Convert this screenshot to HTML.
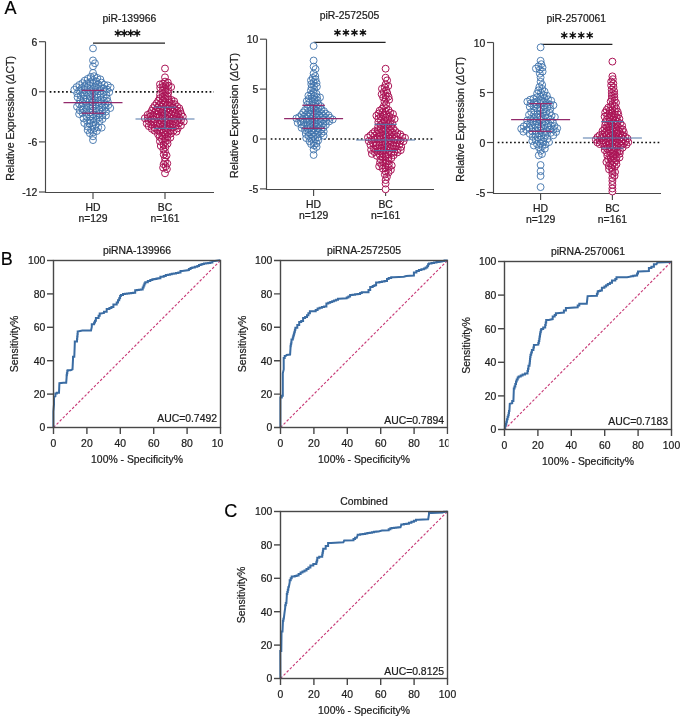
<!DOCTYPE html>
<html><head><meta charset="utf-8"><style>
html,body{margin:0;padding:0;background:#fff;}
svg{display:block;font-family:"Liberation Sans", sans-serif;filter:blur(0.45px);}
text{stroke:#222;stroke-width:0.22px;}
</style></head><body>
<svg width="685" height="722" viewBox="0 0 685 722">
<rect width="685" height="722" fill="#fff"/>
<defs><clipPath id="c1"><rect x="0" y="235" width="223" height="250"/></clipPath><clipPath id="c2"><rect x="225" y="235" width="223.5" height="250"/></clipPath><clipPath id="c3"><rect x="450" y="235" width="235" height="250"/></clipPath><clipPath id="c4"><rect x="225" y="485" width="260" height="237"/></clipPath></defs>
<line x1="45.50" y1="41.70" x2="45.50" y2="193.00" stroke="#484848" stroke-width="1.15" />
<line x1="45.00" y1="192.50" x2="214.00" y2="192.50" stroke="#484848" stroke-width="1.15" />
<line x1="39.00" y1="41.70" x2="45.50" y2="41.70" stroke="#484848" stroke-width="1.15" />
<text x="37.30" y="45.70" font-size="10.4" text-anchor="end" fill="#1a1a1a" >6</text>
<line x1="39.00" y1="91.80" x2="45.50" y2="91.80" stroke="#484848" stroke-width="1.15" />
<text x="37.30" y="95.80" font-size="10.4" text-anchor="end" fill="#1a1a1a" >0</text>
<line x1="39.00" y1="141.90" x2="45.50" y2="141.90" stroke="#484848" stroke-width="1.15" />
<text x="37.30" y="145.90" font-size="10.4" text-anchor="end" fill="#1a1a1a" >-6</text>
<line x1="39.00" y1="192.00" x2="45.50" y2="192.00" stroke="#484848" stroke-width="1.15" />
<text x="37.30" y="196.00" font-size="10.4" text-anchor="end" fill="#1a1a1a" >-12</text>
<line x1="93.00" y1="192.50" x2="93.00" y2="199.00" stroke="#484848" stroke-width="1.15" />
<text x="93.00" y="210.60" font-size="10.4" text-anchor="middle" fill="#1a1a1a" >HD</text>
<text x="93.00" y="221.80" font-size="10.4" text-anchor="middle" fill="#1a1a1a" >n=129</text>
<line x1="165.00" y1="192.50" x2="165.00" y2="199.00" stroke="#484848" stroke-width="1.15" />
<text x="165.00" y="210.60" font-size="10.4" text-anchor="middle" fill="#1a1a1a" >BC</text>
<text x="165.00" y="221.80" font-size="10.4" text-anchor="middle" fill="#1a1a1a" >n=161</text>
<line x1="49.7" y1="91.80" x2="214" y2="91.80" stroke="#111" stroke-width="1.7" stroke-dasharray="1.7 2.4"/>
<text transform="translate(13.8,118.3) rotate(-90)" font-size="10.6" text-anchor="middle" fill="#1a1a1a">Relative Expression (<tspan font-style="italic">&#916;</tspan>CT)</text>
<text x="129.40" y="22.00" font-size="10.4" text-anchor="middle" fill="#1a1a1a" >piR-139966</text>
<line x1="93.00" y1="43.20" x2="165.00" y2="43.20" stroke="#222" stroke-width="1.2" />
<path d="M117.90,29.60L117.90,36.80M114.78,31.40L121.02,35.00M121.02,31.40L114.78,35.00" stroke="#111" stroke-width="1.35" fill="none"/><circle cx="117.90" cy="33.20" r="1.25" fill="#111"/>
<path d="M124.30,29.60L124.30,36.80M121.18,31.40L127.42,35.00M127.42,31.40L121.18,35.00" stroke="#111" stroke-width="1.35" fill="none"/><circle cx="124.30" cy="33.20" r="1.25" fill="#111"/>
<path d="M130.70,29.60L130.70,36.80M127.58,31.40L133.82,35.00M133.82,31.40L127.58,35.00" stroke="#111" stroke-width="1.35" fill="none"/><circle cx="130.70" cy="33.20" r="1.25" fill="#111"/>
<path d="M137.10,29.60L137.10,36.80M133.98,31.40L140.22,35.00M140.22,31.40L133.98,35.00" stroke="#111" stroke-width="1.35" fill="none"/><circle cx="137.10" cy="33.20" r="1.25" fill="#111"/>
<g fill="#fff" stroke="none"><circle cx="93.00" cy="72.86" r="3.45"/><circle cx="94.13" cy="76.17" r="3.45"/><circle cx="90.71" cy="76.92" r="3.45"/><circle cx="97.17" cy="77.90" r="3.45"/><circle cx="87.77" cy="78.82" r="3.45"/><circle cx="100.36" cy="79.35" r="3.45"/><circle cx="93.00" cy="80.09" r="3.45"/><circle cx="84.76" cy="80.61" r="3.45"/><circle cx="96.25" cy="81.39" r="3.45"/><circle cx="90.12" cy="82.07" r="3.45"/><circle cx="101.52" cy="82.65" r="3.45"/><circle cx="82.36" cy="83.16" r="3.45"/><circle cx="86.90" cy="83.46" r="3.45"/><circle cx="93.17" cy="83.78" r="3.45"/><circle cx="98.30" cy="84.23" r="3.45"/><circle cx="104.31" cy="84.77" r="3.45"/><circle cx="79.36" cy="84.95" r="3.45"/><circle cx="107.76" cy="85.38" r="3.45"/><circle cx="90.35" cy="85.85" r="3.45"/><circle cx="84.48" cy="85.98" r="3.45"/><circle cx="95.41" cy="86.47" r="3.45"/><circle cx="100.56" cy="86.90" r="3.45"/><circle cx="76.57" cy="87.07" r="3.45"/><circle cx="110.55" cy="87.48" r="3.45"/><circle cx="87.51" cy="87.90" r="3.45"/><circle cx="81.65" cy="88.05" r="3.45"/><circle cx="103.69" cy="88.48" r="3.45"/><circle cx="92.86" cy="88.87" r="3.45"/><circle cx="97.62" cy="89.19" r="3.45"/><circle cx="107.04" cy="89.48" r="3.45"/><circle cx="74.32" cy="89.76" r="3.45"/><circle cx="84.84" cy="90.17" r="3.45"/><circle cx="79.14" cy="90.48" r="3.45"/><circle cx="89.98" cy="90.86" r="3.45"/><circle cx="100.50" cy="91.18" r="3.45"/><circle cx="94.99" cy="91.64" r="3.45"/><circle cx="103.91" cy="91.98" r="3.45"/><circle cx="109.20" cy="92.23" r="3.45"/><circle cx="82.39" cy="92.66" r="3.45"/><circle cx="87.18" cy="92.96" r="3.45"/><circle cx="77.17" cy="93.38" r="3.45"/><circle cx="92.18" cy="93.74" r="3.45"/><circle cx="97.37" cy="94.21" r="3.45"/><circle cx="106.32" cy="94.52" r="3.45"/><circle cx="100.79" cy="94.95" r="3.45"/><circle cx="84.69" cy="95.42" r="3.45"/><circle cx="80.71" cy="95.73" r="3.45"/><circle cx="89.76" cy="96.27" r="3.45"/><circle cx="94.38" cy="96.46" r="3.45"/><circle cx="103.62" cy="97.00" r="3.45"/><circle cx="77.58" cy="97.31" r="3.45"/><circle cx="97.68" cy="97.69" r="3.45"/><circle cx="106.94" cy="98.13" r="3.45"/><circle cx="87.06" cy="98.49" r="3.45"/><circle cx="83.57" cy="98.84" r="3.45"/><circle cx="92.09" cy="99.11" r="3.45"/><circle cx="100.67" cy="99.51" r="3.45"/><circle cx="80.29" cy="100.05" r="3.45"/><circle cx="95.35" cy="100.38" r="3.45"/><circle cx="103.93" cy="100.80" r="3.45"/><circle cx="89.31" cy="101.24" r="3.45"/><circle cx="107.74" cy="101.54" r="3.45"/><circle cx="85.78" cy="101.75" r="3.45"/><circle cx="98.35" cy="102.18" r="3.45"/><circle cx="92.67" cy="102.63" r="3.45"/><circle cx="82.48" cy="102.90" r="3.45"/><circle cx="101.61" cy="103.46" r="3.45"/><circle cx="79.10" cy="103.82" r="3.45"/><circle cx="105.04" cy="104.16" r="3.45"/><circle cx="95.67" cy="104.43" r="3.45"/><circle cx="90.00" cy="104.89" r="3.45"/><circle cx="108.42" cy="105.08" r="3.45"/><circle cx="86.55" cy="105.49" r="3.45"/><circle cx="98.85" cy="105.89" r="3.45"/><circle cx="81.75" cy="106.33" r="3.45"/><circle cx="77.01" cy="106.63" r="3.45"/><circle cx="93.00" cy="106.90" r="3.45"/><circle cx="102.04" cy="107.32" r="3.45"/><circle cx="105.53" cy="107.68" r="3.45"/><circle cx="110.29" cy="108.04" r="3.45"/><circle cx="96.18" cy="108.37" r="3.45"/><circle cx="90.06" cy="108.79" r="3.45"/><circle cx="86.58" cy="109.17" r="3.45"/><circle cx="83.11" cy="109.63" r="3.45"/><circle cx="99.26" cy="110.02" r="3.45"/><circle cx="79.68" cy="110.33" r="3.45"/><circle cx="93.00" cy="110.70" r="3.45"/><circle cx="102.56" cy="111.19" r="3.45"/><circle cx="106.03" cy="111.63" r="3.45"/><circle cx="96.26" cy="111.98" r="3.45"/><circle cx="89.96" cy="112.44" r="3.45"/><circle cx="86.50" cy="112.92" r="3.45"/><circle cx="82.49" cy="113.08" r="3.45"/><circle cx="99.27" cy="113.77" r="3.45"/><circle cx="79.13" cy="114.03" r="3.45"/><circle cx="93.00" cy="114.55" r="3.45"/><circle cx="102.50" cy="115.11" r="3.45"/><circle cx="105.97" cy="115.56" r="3.45"/><circle cx="96.25" cy="115.84" r="3.45"/><circle cx="90.09" cy="116.50" r="3.45"/><circle cx="86.60" cy="116.79" r="3.45"/><circle cx="99.39" cy="117.39" r="3.45"/><circle cx="93.22" cy="118.06" r="3.45"/><circle cx="83.52" cy="118.44" r="3.45"/><circle cx="102.48" cy="119.04" r="3.45"/><circle cx="96.34" cy="119.65" r="3.45"/><circle cx="90.52" cy="120.28" r="3.45"/><circle cx="87.07" cy="120.89" r="3.45"/><circle cx="99.48" cy="121.21" r="3.45"/><circle cx="93.48" cy="122.14" r="3.45"/><circle cx="84.27" cy="122.99" r="3.45"/><circle cx="89.44" cy="123.61" r="3.45"/><circle cx="95.82" cy="124.74" r="3.45"/><circle cx="92.43" cy="125.59" r="3.45"/><circle cx="87.45" cy="126.49" r="3.45"/><circle cx="98.21" cy="127.30" r="3.45"/><circle cx="101.70" cy="127.63" r="3.45"/><circle cx="94.43" cy="128.46" r="3.45"/><circle cx="91.09" cy="129.53" r="3.45"/><circle cx="87.64" cy="130.08" r="3.45"/><circle cx="96.80" cy="131.04" r="3.45"/><circle cx="93.24" cy="132.30" r="3.45"/><circle cx="89.85" cy="133.20" r="3.45"/><circle cx="93.00" cy="136.32" r="3.45"/><circle cx="93.00" cy="48.40" r="3.45"/><circle cx="93.00" cy="60.40" r="3.45"/><circle cx="94.96" cy="63.30" r="3.45"/><circle cx="93.00" cy="66.30" r="3.45"/><circle cx="93.00" cy="140.10" r="3.45"/></g>
<g fill="none" stroke="#3f73ab" stroke-width="0.9"><circle cx="93.00" cy="72.86" r="3.45"/><circle cx="94.13" cy="76.17" r="3.45"/><circle cx="90.71" cy="76.92" r="3.45"/><circle cx="97.17" cy="77.90" r="3.45"/><circle cx="87.77" cy="78.82" r="3.45"/><circle cx="100.36" cy="79.35" r="3.45"/><circle cx="93.00" cy="80.09" r="3.45"/><circle cx="84.76" cy="80.61" r="3.45"/><circle cx="96.25" cy="81.39" r="3.45"/><circle cx="90.12" cy="82.07" r="3.45"/><circle cx="101.52" cy="82.65" r="3.45"/><circle cx="82.36" cy="83.16" r="3.45"/><circle cx="86.90" cy="83.46" r="3.45"/><circle cx="93.17" cy="83.78" r="3.45"/><circle cx="98.30" cy="84.23" r="3.45"/><circle cx="104.31" cy="84.77" r="3.45"/><circle cx="79.36" cy="84.95" r="3.45"/><circle cx="107.76" cy="85.38" r="3.45"/><circle cx="90.35" cy="85.85" r="3.45"/><circle cx="84.48" cy="85.98" r="3.45"/><circle cx="95.41" cy="86.47" r="3.45"/><circle cx="100.56" cy="86.90" r="3.45"/><circle cx="76.57" cy="87.07" r="3.45"/><circle cx="110.55" cy="87.48" r="3.45"/><circle cx="87.51" cy="87.90" r="3.45"/><circle cx="81.65" cy="88.05" r="3.45"/><circle cx="103.69" cy="88.48" r="3.45"/><circle cx="92.86" cy="88.87" r="3.45"/><circle cx="97.62" cy="89.19" r="3.45"/><circle cx="107.04" cy="89.48" r="3.45"/><circle cx="74.32" cy="89.76" r="3.45"/><circle cx="84.84" cy="90.17" r="3.45"/><circle cx="79.14" cy="90.48" r="3.45"/><circle cx="89.98" cy="90.86" r="3.45"/><circle cx="100.50" cy="91.18" r="3.45"/><circle cx="94.99" cy="91.64" r="3.45"/><circle cx="103.91" cy="91.98" r="3.45"/><circle cx="109.20" cy="92.23" r="3.45"/><circle cx="82.39" cy="92.66" r="3.45"/><circle cx="87.18" cy="92.96" r="3.45"/><circle cx="77.17" cy="93.38" r="3.45"/><circle cx="92.18" cy="93.74" r="3.45"/><circle cx="97.37" cy="94.21" r="3.45"/><circle cx="106.32" cy="94.52" r="3.45"/><circle cx="100.79" cy="94.95" r="3.45"/><circle cx="84.69" cy="95.42" r="3.45"/><circle cx="80.71" cy="95.73" r="3.45"/><circle cx="89.76" cy="96.27" r="3.45"/><circle cx="94.38" cy="96.46" r="3.45"/><circle cx="103.62" cy="97.00" r="3.45"/><circle cx="77.58" cy="97.31" r="3.45"/><circle cx="97.68" cy="97.69" r="3.45"/><circle cx="106.94" cy="98.13" r="3.45"/><circle cx="87.06" cy="98.49" r="3.45"/><circle cx="83.57" cy="98.84" r="3.45"/><circle cx="92.09" cy="99.11" r="3.45"/><circle cx="100.67" cy="99.51" r="3.45"/><circle cx="80.29" cy="100.05" r="3.45"/><circle cx="95.35" cy="100.38" r="3.45"/><circle cx="103.93" cy="100.80" r="3.45"/><circle cx="89.31" cy="101.24" r="3.45"/><circle cx="107.74" cy="101.54" r="3.45"/><circle cx="85.78" cy="101.75" r="3.45"/><circle cx="98.35" cy="102.18" r="3.45"/><circle cx="92.67" cy="102.63" r="3.45"/><circle cx="82.48" cy="102.90" r="3.45"/><circle cx="101.61" cy="103.46" r="3.45"/><circle cx="79.10" cy="103.82" r="3.45"/><circle cx="105.04" cy="104.16" r="3.45"/><circle cx="95.67" cy="104.43" r="3.45"/><circle cx="90.00" cy="104.89" r="3.45"/><circle cx="108.42" cy="105.08" r="3.45"/><circle cx="86.55" cy="105.49" r="3.45"/><circle cx="98.85" cy="105.89" r="3.45"/><circle cx="81.75" cy="106.33" r="3.45"/><circle cx="77.01" cy="106.63" r="3.45"/><circle cx="93.00" cy="106.90" r="3.45"/><circle cx="102.04" cy="107.32" r="3.45"/><circle cx="105.53" cy="107.68" r="3.45"/><circle cx="110.29" cy="108.04" r="3.45"/><circle cx="96.18" cy="108.37" r="3.45"/><circle cx="90.06" cy="108.79" r="3.45"/><circle cx="86.58" cy="109.17" r="3.45"/><circle cx="83.11" cy="109.63" r="3.45"/><circle cx="99.26" cy="110.02" r="3.45"/><circle cx="79.68" cy="110.33" r="3.45"/><circle cx="93.00" cy="110.70" r="3.45"/><circle cx="102.56" cy="111.19" r="3.45"/><circle cx="106.03" cy="111.63" r="3.45"/><circle cx="96.26" cy="111.98" r="3.45"/><circle cx="89.96" cy="112.44" r="3.45"/><circle cx="86.50" cy="112.92" r="3.45"/><circle cx="82.49" cy="113.08" r="3.45"/><circle cx="99.27" cy="113.77" r="3.45"/><circle cx="79.13" cy="114.03" r="3.45"/><circle cx="93.00" cy="114.55" r="3.45"/><circle cx="102.50" cy="115.11" r="3.45"/><circle cx="105.97" cy="115.56" r="3.45"/><circle cx="96.25" cy="115.84" r="3.45"/><circle cx="90.09" cy="116.50" r="3.45"/><circle cx="86.60" cy="116.79" r="3.45"/><circle cx="99.39" cy="117.39" r="3.45"/><circle cx="93.22" cy="118.06" r="3.45"/><circle cx="83.52" cy="118.44" r="3.45"/><circle cx="102.48" cy="119.04" r="3.45"/><circle cx="96.34" cy="119.65" r="3.45"/><circle cx="90.52" cy="120.28" r="3.45"/><circle cx="87.07" cy="120.89" r="3.45"/><circle cx="99.48" cy="121.21" r="3.45"/><circle cx="93.48" cy="122.14" r="3.45"/><circle cx="84.27" cy="122.99" r="3.45"/><circle cx="89.44" cy="123.61" r="3.45"/><circle cx="95.82" cy="124.74" r="3.45"/><circle cx="92.43" cy="125.59" r="3.45"/><circle cx="87.45" cy="126.49" r="3.45"/><circle cx="98.21" cy="127.30" r="3.45"/><circle cx="101.70" cy="127.63" r="3.45"/><circle cx="94.43" cy="128.46" r="3.45"/><circle cx="91.09" cy="129.53" r="3.45"/><circle cx="87.64" cy="130.08" r="3.45"/><circle cx="96.80" cy="131.04" r="3.45"/><circle cx="93.24" cy="132.30" r="3.45"/><circle cx="89.85" cy="133.20" r="3.45"/><circle cx="93.00" cy="136.32" r="3.45"/><circle cx="93.00" cy="48.40" r="3.45"/><circle cx="93.00" cy="60.40" r="3.45"/><circle cx="94.96" cy="63.30" r="3.45"/><circle cx="93.00" cy="66.30" r="3.45"/><circle cx="93.00" cy="140.10" r="3.45"/></g>
<g fill="#fff" stroke="none"><circle cx="165.00" cy="81.62" r="3.45"/><circle cx="167.87" cy="82.51" r="3.45"/><circle cx="162.88" cy="83.75" r="3.45"/><circle cx="159.95" cy="84.39" r="3.45"/><circle cx="165.54" cy="85.14" r="3.45"/><circle cx="168.50" cy="85.64" r="3.45"/><circle cx="163.04" cy="86.81" r="3.45"/><circle cx="171.15" cy="87.05" r="3.45"/><circle cx="160.26" cy="87.94" r="3.45"/><circle cx="165.25" cy="88.84" r="3.45"/><circle cx="168.05" cy="89.90" r="3.45"/><circle cx="162.72" cy="90.45" r="3.45"/><circle cx="165.34" cy="91.92" r="3.45"/><circle cx="168.13" cy="93.03" r="3.45"/><circle cx="162.77" cy="93.47" r="3.45"/><circle cx="160.08" cy="94.81" r="3.45"/><circle cx="165.08" cy="95.38" r="3.45"/><circle cx="167.88" cy="96.46" r="3.45"/><circle cx="162.59" cy="97.04" r="3.45"/><circle cx="159.81" cy="98.17" r="3.45"/><circle cx="165.17" cy="98.57" r="3.45"/><circle cx="168.51" cy="99.40" r="3.45"/><circle cx="171.46" cy="99.91" r="3.45"/><circle cx="162.86" cy="100.49" r="3.45"/><circle cx="158.32" cy="100.77" r="3.45"/><circle cx="174.14" cy="101.26" r="3.45"/><circle cx="165.48" cy="101.96" r="3.45"/><circle cx="169.28" cy="102.29" r="3.45"/><circle cx="161.12" cy="102.93" r="3.45"/><circle cx="156.65" cy="103.27" r="3.45"/><circle cx="171.92" cy="103.72" r="3.45"/><circle cx="174.87" cy="104.24" r="3.45"/><circle cx="163.91" cy="104.51" r="3.45"/><circle cx="166.89" cy="104.78" r="3.45"/><circle cx="159.10" cy="105.16" r="3.45"/><circle cx="154.77" cy="105.61" r="3.45"/><circle cx="169.65" cy="105.95" r="3.45"/><circle cx="177.02" cy="106.33" r="3.45"/><circle cx="161.78" cy="106.62" r="3.45"/><circle cx="172.45" cy="107.03" r="3.45"/><circle cx="165.00" cy="107.31" r="3.45"/><circle cx="157.52" cy="107.71" r="3.45"/><circle cx="153.07" cy="108.08" r="3.45"/><circle cx="179.30" cy="108.28" r="3.45"/><circle cx="167.68" cy="108.66" r="3.45"/><circle cx="174.70" cy="109.02" r="3.45"/><circle cx="160.59" cy="109.38" r="3.45"/><circle cx="170.53" cy="109.59" r="3.45"/><circle cx="163.59" cy="109.96" r="3.45"/><circle cx="155.95" cy="110.26" r="3.45"/><circle cx="177.25" cy="110.60" r="3.45"/><circle cx="151.76" cy="110.78" r="3.45"/><circle cx="180.28" cy="111.11" r="3.45"/><circle cx="166.27" cy="111.30" r="3.45"/><circle cx="158.62" cy="111.64" r="3.45"/><circle cx="172.50" cy="111.86" r="3.45"/><circle cx="161.67" cy="112.27" r="3.45"/><circle cx="169.04" cy="112.45" r="3.45"/><circle cx="154.34" cy="112.79" r="3.45"/><circle cx="175.28" cy="112.98" r="3.45"/><circle cx="150.20" cy="113.34" r="3.45"/><circle cx="178.23" cy="113.51" r="3.45"/><circle cx="164.54" cy="113.76" r="3.45"/><circle cx="181.18" cy="114.06" r="3.45"/><circle cx="157.38" cy="114.37" r="3.45"/><circle cx="171.09" cy="114.63" r="3.45"/><circle cx="147.60" cy="114.84" r="3.45"/><circle cx="167.27" cy="115.01" r="3.45"/><circle cx="162.00" cy="115.35" r="3.45"/><circle cx="153.15" cy="115.55" r="3.45"/><circle cx="173.82" cy="115.88" r="3.45"/><circle cx="176.81" cy="116.16" r="3.45"/><circle cx="150.26" cy="116.35" r="3.45"/><circle cx="182.77" cy="116.61" r="3.45"/><circle cx="164.84" cy="116.77" r="3.45"/><circle cx="159.56" cy="117.10" r="3.45"/><circle cx="169.24" cy="117.27" r="3.45"/><circle cx="156.60" cy="117.60" r="3.45"/><circle cx="179.32" cy="117.80" r="3.45"/><circle cx="147.84" cy="118.12" r="3.45"/><circle cx="144.84" cy="118.24" r="3.45"/><circle cx="162.38" cy="118.49" r="3.45"/><circle cx="171.80" cy="118.83" r="3.45"/><circle cx="166.79" cy="119.05" r="3.45"/><circle cx="174.76" cy="119.30" r="3.45"/><circle cx="154.35" cy="119.59" r="3.45"/><circle cx="151.36" cy="119.77" r="3.45"/><circle cx="159.13" cy="120.06" r="3.45"/><circle cx="181.05" cy="120.26" r="3.45"/><circle cx="177.48" cy="120.57" r="3.45"/><circle cx="169.25" cy="120.76" r="3.45"/><circle cx="164.44" cy="120.92" r="3.45"/><circle cx="148.72" cy="121.19" r="3.45"/><circle cx="183.77" cy="121.52" r="3.45"/><circle cx="172.74" cy="121.68" r="3.45"/><circle cx="161.61" cy="121.90" r="3.45"/><circle cx="157.02" cy="122.20" r="3.45"/><circle cx="153.41" cy="122.44" r="3.45"/><circle cx="166.83" cy="122.73" r="3.45"/><circle cx="175.46" cy="122.95" r="3.45"/><circle cx="178.96" cy="123.18" r="3.45"/><circle cx="146.76" cy="123.46" r="3.45"/><circle cx="169.71" cy="123.73" r="3.45"/><circle cx="164.15" cy="124.08" r="3.45"/><circle cx="159.89" cy="124.36" r="3.45"/><circle cx="151.30" cy="124.56" r="3.45"/><circle cx="172.54" cy="124.73" r="3.45"/><circle cx="156.38" cy="125.13" r="3.45"/><circle cx="180.97" cy="125.40" r="3.45"/><circle cx="167.15" cy="125.71" r="3.45"/><circle cx="176.00" cy="125.90" r="3.45"/><circle cx="148.74" cy="126.13" r="3.45"/><circle cx="162.44" cy="126.54" r="3.45"/><circle cx="169.96" cy="126.74" r="3.45"/><circle cx="158.86" cy="127.18" r="3.45"/><circle cx="154.54" cy="127.50" r="3.45"/><circle cx="172.80" cy="127.73" r="3.45"/><circle cx="165.00" cy="128.17" r="3.45"/><circle cx="177.78" cy="128.32" r="3.45"/><circle cx="151.85" cy="128.82" r="3.45"/><circle cx="167.87" cy="129.05" r="3.45"/><circle cx="161.76" cy="129.46" r="3.45"/><circle cx="157.43" cy="129.81" r="3.45"/><circle cx="170.63" cy="130.23" r="3.45"/><circle cx="173.68" cy="130.59" r="3.45"/><circle cx="154.57" cy="130.72" r="3.45"/><circle cx="165.64" cy="131.10" r="3.45"/><circle cx="176.49" cy="131.63" r="3.45"/><circle cx="160.01" cy="131.90" r="3.45"/><circle cx="163.02" cy="132.54" r="3.45"/><circle cx="167.97" cy="132.99" r="3.45"/><circle cx="170.91" cy="133.58" r="3.45"/><circle cx="157.95" cy="134.09" r="3.45"/><circle cx="165.11" cy="134.69" r="3.45"/><circle cx="162.33" cy="135.81" r="3.45"/><circle cx="167.54" cy="136.45" r="3.45"/><circle cx="159.50" cy="136.82" r="3.45"/><circle cx="170.30" cy="137.63" r="3.45"/><circle cx="165.00" cy="138.68" r="3.45"/><circle cx="162.06" cy="139.29" r="3.45"/><circle cx="167.58" cy="140.21" r="3.45"/><circle cx="159.92" cy="141.39" r="3.45"/><circle cx="165.00" cy="142.10" r="3.45"/><circle cx="167.56" cy="143.67" r="3.45"/><circle cx="163.56" cy="144.73" r="3.45"/><circle cx="160.82" cy="145.96" r="3.45"/><circle cx="165.38" cy="147.12" r="3.45"/><circle cx="163.35" cy="149.33" r="3.45"/><circle cx="165.00" cy="151.84" r="3.45"/><circle cx="163.70" cy="154.54" r="3.45"/><circle cx="166.57" cy="155.43" r="3.45"/><circle cx="165.00" cy="158.03" r="3.45"/><circle cx="165.00" cy="161.54" r="3.45"/><circle cx="167.27" cy="163.50" r="3.45"/><circle cx="163.64" cy="164.21" r="3.45"/><circle cx="165.78" cy="166.31" r="3.45"/><circle cx="163.10" cy="167.65" r="3.45"/><circle cx="166.88" cy="169.10" r="3.45"/><circle cx="165.00" cy="68.50" r="3.45"/><circle cx="165.00" cy="77.30" r="3.45"/><circle cx="165.00" cy="173.30" r="3.45"/></g>
<g fill="none" stroke="#ab1456" stroke-width="1.0"><circle cx="165.00" cy="81.62" r="3.45"/><circle cx="167.87" cy="82.51" r="3.45"/><circle cx="162.88" cy="83.75" r="3.45"/><circle cx="159.95" cy="84.39" r="3.45"/><circle cx="165.54" cy="85.14" r="3.45"/><circle cx="168.50" cy="85.64" r="3.45"/><circle cx="163.04" cy="86.81" r="3.45"/><circle cx="171.15" cy="87.05" r="3.45"/><circle cx="160.26" cy="87.94" r="3.45"/><circle cx="165.25" cy="88.84" r="3.45"/><circle cx="168.05" cy="89.90" r="3.45"/><circle cx="162.72" cy="90.45" r="3.45"/><circle cx="165.34" cy="91.92" r="3.45"/><circle cx="168.13" cy="93.03" r="3.45"/><circle cx="162.77" cy="93.47" r="3.45"/><circle cx="160.08" cy="94.81" r="3.45"/><circle cx="165.08" cy="95.38" r="3.45"/><circle cx="167.88" cy="96.46" r="3.45"/><circle cx="162.59" cy="97.04" r="3.45"/><circle cx="159.81" cy="98.17" r="3.45"/><circle cx="165.17" cy="98.57" r="3.45"/><circle cx="168.51" cy="99.40" r="3.45"/><circle cx="171.46" cy="99.91" r="3.45"/><circle cx="162.86" cy="100.49" r="3.45"/><circle cx="158.32" cy="100.77" r="3.45"/><circle cx="174.14" cy="101.26" r="3.45"/><circle cx="165.48" cy="101.96" r="3.45"/><circle cx="169.28" cy="102.29" r="3.45"/><circle cx="161.12" cy="102.93" r="3.45"/><circle cx="156.65" cy="103.27" r="3.45"/><circle cx="171.92" cy="103.72" r="3.45"/><circle cx="174.87" cy="104.24" r="3.45"/><circle cx="163.91" cy="104.51" r="3.45"/><circle cx="166.89" cy="104.78" r="3.45"/><circle cx="159.10" cy="105.16" r="3.45"/><circle cx="154.77" cy="105.61" r="3.45"/><circle cx="169.65" cy="105.95" r="3.45"/><circle cx="177.02" cy="106.33" r="3.45"/><circle cx="161.78" cy="106.62" r="3.45"/><circle cx="172.45" cy="107.03" r="3.45"/><circle cx="165.00" cy="107.31" r="3.45"/><circle cx="157.52" cy="107.71" r="3.45"/><circle cx="153.07" cy="108.08" r="3.45"/><circle cx="179.30" cy="108.28" r="3.45"/><circle cx="167.68" cy="108.66" r="3.45"/><circle cx="174.70" cy="109.02" r="3.45"/><circle cx="160.59" cy="109.38" r="3.45"/><circle cx="170.53" cy="109.59" r="3.45"/><circle cx="163.59" cy="109.96" r="3.45"/><circle cx="155.95" cy="110.26" r="3.45"/><circle cx="177.25" cy="110.60" r="3.45"/><circle cx="151.76" cy="110.78" r="3.45"/><circle cx="180.28" cy="111.11" r="3.45"/><circle cx="166.27" cy="111.30" r="3.45"/><circle cx="158.62" cy="111.64" r="3.45"/><circle cx="172.50" cy="111.86" r="3.45"/><circle cx="161.67" cy="112.27" r="3.45"/><circle cx="169.04" cy="112.45" r="3.45"/><circle cx="154.34" cy="112.79" r="3.45"/><circle cx="175.28" cy="112.98" r="3.45"/><circle cx="150.20" cy="113.34" r="3.45"/><circle cx="178.23" cy="113.51" r="3.45"/><circle cx="164.54" cy="113.76" r="3.45"/><circle cx="181.18" cy="114.06" r="3.45"/><circle cx="157.38" cy="114.37" r="3.45"/><circle cx="171.09" cy="114.63" r="3.45"/><circle cx="147.60" cy="114.84" r="3.45"/><circle cx="167.27" cy="115.01" r="3.45"/><circle cx="162.00" cy="115.35" r="3.45"/><circle cx="153.15" cy="115.55" r="3.45"/><circle cx="173.82" cy="115.88" r="3.45"/><circle cx="176.81" cy="116.16" r="3.45"/><circle cx="150.26" cy="116.35" r="3.45"/><circle cx="182.77" cy="116.61" r="3.45"/><circle cx="164.84" cy="116.77" r="3.45"/><circle cx="159.56" cy="117.10" r="3.45"/><circle cx="169.24" cy="117.27" r="3.45"/><circle cx="156.60" cy="117.60" r="3.45"/><circle cx="179.32" cy="117.80" r="3.45"/><circle cx="147.84" cy="118.12" r="3.45"/><circle cx="144.84" cy="118.24" r="3.45"/><circle cx="162.38" cy="118.49" r="3.45"/><circle cx="171.80" cy="118.83" r="3.45"/><circle cx="166.79" cy="119.05" r="3.45"/><circle cx="174.76" cy="119.30" r="3.45"/><circle cx="154.35" cy="119.59" r="3.45"/><circle cx="151.36" cy="119.77" r="3.45"/><circle cx="159.13" cy="120.06" r="3.45"/><circle cx="181.05" cy="120.26" r="3.45"/><circle cx="177.48" cy="120.57" r="3.45"/><circle cx="169.25" cy="120.76" r="3.45"/><circle cx="164.44" cy="120.92" r="3.45"/><circle cx="148.72" cy="121.19" r="3.45"/><circle cx="183.77" cy="121.52" r="3.45"/><circle cx="172.74" cy="121.68" r="3.45"/><circle cx="161.61" cy="121.90" r="3.45"/><circle cx="157.02" cy="122.20" r="3.45"/><circle cx="153.41" cy="122.44" r="3.45"/><circle cx="166.83" cy="122.73" r="3.45"/><circle cx="175.46" cy="122.95" r="3.45"/><circle cx="178.96" cy="123.18" r="3.45"/><circle cx="146.76" cy="123.46" r="3.45"/><circle cx="169.71" cy="123.73" r="3.45"/><circle cx="164.15" cy="124.08" r="3.45"/><circle cx="159.89" cy="124.36" r="3.45"/><circle cx="151.30" cy="124.56" r="3.45"/><circle cx="172.54" cy="124.73" r="3.45"/><circle cx="156.38" cy="125.13" r="3.45"/><circle cx="180.97" cy="125.40" r="3.45"/><circle cx="167.15" cy="125.71" r="3.45"/><circle cx="176.00" cy="125.90" r="3.45"/><circle cx="148.74" cy="126.13" r="3.45"/><circle cx="162.44" cy="126.54" r="3.45"/><circle cx="169.96" cy="126.74" r="3.45"/><circle cx="158.86" cy="127.18" r="3.45"/><circle cx="154.54" cy="127.50" r="3.45"/><circle cx="172.80" cy="127.73" r="3.45"/><circle cx="165.00" cy="128.17" r="3.45"/><circle cx="177.78" cy="128.32" r="3.45"/><circle cx="151.85" cy="128.82" r="3.45"/><circle cx="167.87" cy="129.05" r="3.45"/><circle cx="161.76" cy="129.46" r="3.45"/><circle cx="157.43" cy="129.81" r="3.45"/><circle cx="170.63" cy="130.23" r="3.45"/><circle cx="173.68" cy="130.59" r="3.45"/><circle cx="154.57" cy="130.72" r="3.45"/><circle cx="165.64" cy="131.10" r="3.45"/><circle cx="176.49" cy="131.63" r="3.45"/><circle cx="160.01" cy="131.90" r="3.45"/><circle cx="163.02" cy="132.54" r="3.45"/><circle cx="167.97" cy="132.99" r="3.45"/><circle cx="170.91" cy="133.58" r="3.45"/><circle cx="157.95" cy="134.09" r="3.45"/><circle cx="165.11" cy="134.69" r="3.45"/><circle cx="162.33" cy="135.81" r="3.45"/><circle cx="167.54" cy="136.45" r="3.45"/><circle cx="159.50" cy="136.82" r="3.45"/><circle cx="170.30" cy="137.63" r="3.45"/><circle cx="165.00" cy="138.68" r="3.45"/><circle cx="162.06" cy="139.29" r="3.45"/><circle cx="167.58" cy="140.21" r="3.45"/><circle cx="159.92" cy="141.39" r="3.45"/><circle cx="165.00" cy="142.10" r="3.45"/><circle cx="167.56" cy="143.67" r="3.45"/><circle cx="163.56" cy="144.73" r="3.45"/><circle cx="160.82" cy="145.96" r="3.45"/><circle cx="165.38" cy="147.12" r="3.45"/><circle cx="163.35" cy="149.33" r="3.45"/><circle cx="165.00" cy="151.84" r="3.45"/><circle cx="163.70" cy="154.54" r="3.45"/><circle cx="166.57" cy="155.43" r="3.45"/><circle cx="165.00" cy="158.03" r="3.45"/><circle cx="165.00" cy="161.54" r="3.45"/><circle cx="167.27" cy="163.50" r="3.45"/><circle cx="163.64" cy="164.21" r="3.45"/><circle cx="165.78" cy="166.31" r="3.45"/><circle cx="163.10" cy="167.65" r="3.45"/><circle cx="166.88" cy="169.10" r="3.45"/><circle cx="165.00" cy="68.50" r="3.45"/><circle cx="165.00" cy="77.30" r="3.45"/><circle cx="165.00" cy="173.30" r="3.45"/></g>
<line x1="63.50" y1="102.70" x2="122.50" y2="102.70" stroke="#932a6b" stroke-width="1.25" />
<line x1="93.00" y1="90.40" x2="93.00" y2="113.20" stroke="#932a6b" stroke-width="1.25" />
<line x1="81.70" y1="90.40" x2="104.30" y2="90.40" stroke="#932a6b" stroke-width="1.25" />
<line x1="81.70" y1="113.20" x2="104.30" y2="113.20" stroke="#932a6b" stroke-width="1.25" />
<line x1="135.50" y1="119.00" x2="194.50" y2="119.00" stroke="#5378aa" stroke-width="1.05" />
<line x1="165.00" y1="107.20" x2="165.00" y2="128.40" stroke="#5378aa" stroke-width="1.05" />
<line x1="153.70" y1="107.20" x2="176.30" y2="107.20" stroke="#5378aa" stroke-width="1.05" />
<line x1="153.70" y1="128.40" x2="176.30" y2="128.40" stroke="#5378aa" stroke-width="1.05" />
<line x1="266.50" y1="39.20" x2="266.50" y2="190.00" stroke="#484848" stroke-width="1.15" />
<line x1="266.00" y1="189.50" x2="434.00" y2="189.50" stroke="#484848" stroke-width="1.15" />
<line x1="260.00" y1="39.20" x2="266.50" y2="39.20" stroke="#484848" stroke-width="1.15" />
<text x="258.30" y="43.20" font-size="10.4" text-anchor="end" fill="#1a1a1a" >10</text>
<line x1="260.00" y1="89.10" x2="266.50" y2="89.10" stroke="#484848" stroke-width="1.15" />
<text x="258.30" y="93.10" font-size="10.4" text-anchor="end" fill="#1a1a1a" >5</text>
<line x1="260.00" y1="139.00" x2="266.50" y2="139.00" stroke="#484848" stroke-width="1.15" />
<text x="258.30" y="143.00" font-size="10.4" text-anchor="end" fill="#1a1a1a" >0</text>
<line x1="260.00" y1="188.90" x2="266.50" y2="188.90" stroke="#484848" stroke-width="1.15" />
<text x="258.30" y="192.90" font-size="10.4" text-anchor="end" fill="#1a1a1a" >-5</text>
<line x1="313.60" y1="189.50" x2="313.60" y2="196.00" stroke="#484848" stroke-width="1.15" />
<text x="313.60" y="208.00" font-size="10.4" text-anchor="middle" fill="#1a1a1a" >HD</text>
<text x="313.60" y="219.20" font-size="10.4" text-anchor="middle" fill="#1a1a1a" >n=129</text>
<line x1="385.60" y1="189.50" x2="385.60" y2="196.00" stroke="#484848" stroke-width="1.15" />
<text x="385.60" y="208.00" font-size="10.4" text-anchor="middle" fill="#1a1a1a" >BC</text>
<text x="385.60" y="219.20" font-size="10.4" text-anchor="middle" fill="#1a1a1a" >n=161</text>
<line x1="270.7" y1="139.00" x2="434" y2="139.00" stroke="#111" stroke-width="1.7" stroke-dasharray="1.7 2.4"/>
<text transform="translate(238.2,115.5) rotate(-90)" font-size="10.6" text-anchor="middle" fill="#1a1a1a">Relative Expression (<tspan font-style="italic">&#916;</tspan>CT)</text>
<text x="349.50" y="19.00" font-size="10.4" text-anchor="middle" fill="#1a1a1a" >piR-2572505</text>
<line x1="313.60" y1="42.30" x2="385.60" y2="42.30" stroke="#222" stroke-width="1.2" />
<path d="M337.45,29.00L337.45,36.20M334.33,30.80L340.57,34.40M340.57,30.80L334.33,34.40" stroke="#111" stroke-width="1.35" fill="none"/><circle cx="337.45" cy="32.60" r="1.25" fill="#111"/>
<path d="M345.95,29.00L345.95,36.20M342.83,30.80L349.07,34.40M349.07,30.80L342.83,34.40" stroke="#111" stroke-width="1.35" fill="none"/><circle cx="345.95" cy="32.60" r="1.25" fill="#111"/>
<path d="M354.45,29.00L354.45,36.20M351.33,30.80L357.57,34.40M357.57,30.80L351.33,34.40" stroke="#111" stroke-width="1.35" fill="none"/><circle cx="354.45" cy="32.60" r="1.25" fill="#111"/>
<path d="M362.95,29.00L362.95,36.20M359.83,30.80L366.07,34.40M366.07,30.80L359.83,34.40" stroke="#111" stroke-width="1.35" fill="none"/><circle cx="362.95" cy="32.60" r="1.25" fill="#111"/>
<g fill="#fff" stroke="none"><circle cx="313.60" cy="66.60" r="3.45"/><circle cx="315.54" cy="69.01" r="3.45"/><circle cx="313.60" cy="73.51" r="3.45"/><circle cx="315.27" cy="76.12" r="3.45"/><circle cx="312.74" cy="77.92" r="3.45"/><circle cx="315.54" cy="79.26" r="3.45"/><circle cx="310.94" cy="80.44" r="3.45"/><circle cx="313.60" cy="82.02" r="3.45"/><circle cx="316.57" cy="82.93" r="3.45"/><circle cx="311.27" cy="84.06" r="3.45"/><circle cx="314.01" cy="85.51" r="3.45"/><circle cx="316.92" cy="86.60" r="3.45"/><circle cx="311.64" cy="87.50" r="3.45"/><circle cx="314.17" cy="89.28" r="3.45"/><circle cx="310.88" cy="90.51" r="3.45"/><circle cx="313.60" cy="92.46" r="3.45"/><circle cx="316.44" cy="93.71" r="3.45"/><circle cx="311.29" cy="94.53" r="3.45"/><circle cx="308.40" cy="95.65" r="3.45"/><circle cx="314.01" cy="96.02" r="3.45"/><circle cx="316.97" cy="96.94" r="3.45"/><circle cx="320.03" cy="97.42" r="3.45"/><circle cx="311.90" cy="98.29" r="3.45"/><circle cx="308.85" cy="98.84" r="3.45"/><circle cx="314.73" cy="99.58" r="3.45"/><circle cx="317.67" cy="100.55" r="3.45"/><circle cx="306.73" cy="101.10" r="3.45"/><circle cx="312.54" cy="101.77" r="3.45"/><circle cx="309.54" cy="102.56" r="3.45"/><circle cx="315.20" cy="103.35" r="3.45"/><circle cx="318.20" cy="104.13" r="3.45"/><circle cx="307.28" cy="104.69" r="3.45"/><circle cx="313.00" cy="105.53" r="3.45"/><circle cx="320.61" cy="106.08" r="3.45"/><circle cx="315.88" cy="106.69" r="3.45"/><circle cx="310.39" cy="107.21" r="3.45"/><circle cx="307.37" cy="107.91" r="3.45"/><circle cx="318.49" cy="108.36" r="3.45"/><circle cx="313.55" cy="108.73" r="3.45"/><circle cx="321.41" cy="109.41" r="3.45"/><circle cx="305.07" cy="109.98" r="3.45"/><circle cx="310.88" cy="110.30" r="3.45"/><circle cx="315.78" cy="110.88" r="3.45"/><circle cx="323.97" cy="111.15" r="3.45"/><circle cx="318.78" cy="111.66" r="3.45"/><circle cx="308.31" cy="112.04" r="3.45"/><circle cx="303.18" cy="112.44" r="3.45"/><circle cx="313.44" cy="112.91" r="3.45"/><circle cx="321.45" cy="113.22" r="3.45"/><circle cx="325.76" cy="113.68" r="3.45"/><circle cx="316.37" cy="113.93" r="3.45"/><circle cx="310.60" cy="114.16" r="3.45"/><circle cx="306.50" cy="114.55" r="3.45"/><circle cx="301.41" cy="114.98" r="3.45"/><circle cx="328.47" cy="115.20" r="3.45"/><circle cx="319.08" cy="115.43" r="3.45"/><circle cx="323.20" cy="115.78" r="3.45"/><circle cx="313.60" cy="116.05" r="3.45"/><circle cx="304.12" cy="116.54" r="3.45"/><circle cx="309.02" cy="116.82" r="3.45"/><circle cx="299.12" cy="117.08" r="3.45"/><circle cx="316.42" cy="117.33" r="3.45"/><circle cx="325.68" cy="117.64" r="3.45"/><circle cx="330.14" cy="117.81" r="3.45"/><circle cx="320.63" cy="118.11" r="3.45"/><circle cx="296.33" cy="118.43" r="3.45"/><circle cx="311.95" cy="118.67" r="3.45"/><circle cx="306.70" cy="118.89" r="3.45"/><circle cx="302.80" cy="119.34" r="3.45"/><circle cx="332.73" cy="119.52" r="3.45"/><circle cx="323.23" cy="119.81" r="3.45"/><circle cx="314.73" cy="120.05" r="3.45"/><circle cx="317.82" cy="120.31" r="3.45"/><circle cx="309.54" cy="120.62" r="3.45"/><circle cx="326.09" cy="120.99" r="3.45"/><circle cx="300.36" cy="121.25" r="3.45"/><circle cx="329.16" cy="121.46" r="3.45"/><circle cx="320.61" cy="121.67" r="3.45"/><circle cx="312.42" cy="122.11" r="3.45"/><circle cx="306.93" cy="122.29" r="3.45"/><circle cx="303.85" cy="122.65" r="3.45"/><circle cx="297.69" cy="122.83" r="3.45"/><circle cx="315.29" cy="123.27" r="3.45"/><circle cx="323.09" cy="123.53" r="3.45"/><circle cx="309.86" cy="123.87" r="3.45"/><circle cx="318.26" cy="124.17" r="3.45"/><circle cx="301.36" cy="124.49" r="3.45"/><circle cx="325.88" cy="124.88" r="3.45"/><circle cx="312.98" cy="125.34" r="3.45"/><circle cx="307.21" cy="125.48" r="3.45"/><circle cx="320.84" cy="125.89" r="3.45"/><circle cx="304.20" cy="126.19" r="3.45"/><circle cx="315.73" cy="126.75" r="3.45"/><circle cx="310.44" cy="127.12" r="3.45"/><circle cx="323.55" cy="127.39" r="3.45"/><circle cx="301.57" cy="127.84" r="3.45"/><circle cx="318.41" cy="128.32" r="3.45"/><circle cx="313.35" cy="128.74" r="3.45"/><circle cx="307.99" cy="129.02" r="3.45"/><circle cx="321.20" cy="129.67" r="3.45"/><circle cx="305.08" cy="130.09" r="3.45"/><circle cx="316.01" cy="130.34" r="3.45"/><circle cx="311.27" cy="131.04" r="3.45"/><circle cx="323.72" cy="131.47" r="3.45"/><circle cx="318.64" cy="131.98" r="3.45"/><circle cx="308.48" cy="132.39" r="3.45"/><circle cx="313.83" cy="132.79" r="3.45"/><circle cx="321.31" cy="133.55" r="3.45"/><circle cx="305.80" cy="133.95" r="3.45"/><circle cx="311.18" cy="134.39" r="3.45"/><circle cx="316.10" cy="134.89" r="3.45"/><circle cx="323.57" cy="135.68" r="3.45"/><circle cx="308.55" cy="136.04" r="3.45"/><circle cx="313.56" cy="136.66" r="3.45"/><circle cx="318.04" cy="137.31" r="3.45"/><circle cx="306.23" cy="138.09" r="3.45"/><circle cx="311.25" cy="138.73" r="3.45"/><circle cx="315.22" cy="139.28" r="3.45"/><circle cx="318.20" cy="140.41" r="3.45"/><circle cx="309.45" cy="141.25" r="3.45"/><circle cx="313.60" cy="142.23" r="3.45"/><circle cx="316.50" cy="143.32" r="3.45"/><circle cx="311.12" cy="144.08" r="3.45"/><circle cx="313.95" cy="145.35" r="3.45"/><circle cx="316.63" cy="146.91" r="3.45"/><circle cx="313.60" cy="149.58" r="3.45"/><circle cx="313.60" cy="46.00" r="3.45"/><circle cx="313.60" cy="60.50" r="3.45"/><circle cx="313.60" cy="155.00" r="3.45"/></g>
<g fill="none" stroke="#3f73ab" stroke-width="0.9"><circle cx="313.60" cy="66.60" r="3.45"/><circle cx="315.54" cy="69.01" r="3.45"/><circle cx="313.60" cy="73.51" r="3.45"/><circle cx="315.27" cy="76.12" r="3.45"/><circle cx="312.74" cy="77.92" r="3.45"/><circle cx="315.54" cy="79.26" r="3.45"/><circle cx="310.94" cy="80.44" r="3.45"/><circle cx="313.60" cy="82.02" r="3.45"/><circle cx="316.57" cy="82.93" r="3.45"/><circle cx="311.27" cy="84.06" r="3.45"/><circle cx="314.01" cy="85.51" r="3.45"/><circle cx="316.92" cy="86.60" r="3.45"/><circle cx="311.64" cy="87.50" r="3.45"/><circle cx="314.17" cy="89.28" r="3.45"/><circle cx="310.88" cy="90.51" r="3.45"/><circle cx="313.60" cy="92.46" r="3.45"/><circle cx="316.44" cy="93.71" r="3.45"/><circle cx="311.29" cy="94.53" r="3.45"/><circle cx="308.40" cy="95.65" r="3.45"/><circle cx="314.01" cy="96.02" r="3.45"/><circle cx="316.97" cy="96.94" r="3.45"/><circle cx="320.03" cy="97.42" r="3.45"/><circle cx="311.90" cy="98.29" r="3.45"/><circle cx="308.85" cy="98.84" r="3.45"/><circle cx="314.73" cy="99.58" r="3.45"/><circle cx="317.67" cy="100.55" r="3.45"/><circle cx="306.73" cy="101.10" r="3.45"/><circle cx="312.54" cy="101.77" r="3.45"/><circle cx="309.54" cy="102.56" r="3.45"/><circle cx="315.20" cy="103.35" r="3.45"/><circle cx="318.20" cy="104.13" r="3.45"/><circle cx="307.28" cy="104.69" r="3.45"/><circle cx="313.00" cy="105.53" r="3.45"/><circle cx="320.61" cy="106.08" r="3.45"/><circle cx="315.88" cy="106.69" r="3.45"/><circle cx="310.39" cy="107.21" r="3.45"/><circle cx="307.37" cy="107.91" r="3.45"/><circle cx="318.49" cy="108.36" r="3.45"/><circle cx="313.55" cy="108.73" r="3.45"/><circle cx="321.41" cy="109.41" r="3.45"/><circle cx="305.07" cy="109.98" r="3.45"/><circle cx="310.88" cy="110.30" r="3.45"/><circle cx="315.78" cy="110.88" r="3.45"/><circle cx="323.97" cy="111.15" r="3.45"/><circle cx="318.78" cy="111.66" r="3.45"/><circle cx="308.31" cy="112.04" r="3.45"/><circle cx="303.18" cy="112.44" r="3.45"/><circle cx="313.44" cy="112.91" r="3.45"/><circle cx="321.45" cy="113.22" r="3.45"/><circle cx="325.76" cy="113.68" r="3.45"/><circle cx="316.37" cy="113.93" r="3.45"/><circle cx="310.60" cy="114.16" r="3.45"/><circle cx="306.50" cy="114.55" r="3.45"/><circle cx="301.41" cy="114.98" r="3.45"/><circle cx="328.47" cy="115.20" r="3.45"/><circle cx="319.08" cy="115.43" r="3.45"/><circle cx="323.20" cy="115.78" r="3.45"/><circle cx="313.60" cy="116.05" r="3.45"/><circle cx="304.12" cy="116.54" r="3.45"/><circle cx="309.02" cy="116.82" r="3.45"/><circle cx="299.12" cy="117.08" r="3.45"/><circle cx="316.42" cy="117.33" r="3.45"/><circle cx="325.68" cy="117.64" r="3.45"/><circle cx="330.14" cy="117.81" r="3.45"/><circle cx="320.63" cy="118.11" r="3.45"/><circle cx="296.33" cy="118.43" r="3.45"/><circle cx="311.95" cy="118.67" r="3.45"/><circle cx="306.70" cy="118.89" r="3.45"/><circle cx="302.80" cy="119.34" r="3.45"/><circle cx="332.73" cy="119.52" r="3.45"/><circle cx="323.23" cy="119.81" r="3.45"/><circle cx="314.73" cy="120.05" r="3.45"/><circle cx="317.82" cy="120.31" r="3.45"/><circle cx="309.54" cy="120.62" r="3.45"/><circle cx="326.09" cy="120.99" r="3.45"/><circle cx="300.36" cy="121.25" r="3.45"/><circle cx="329.16" cy="121.46" r="3.45"/><circle cx="320.61" cy="121.67" r="3.45"/><circle cx="312.42" cy="122.11" r="3.45"/><circle cx="306.93" cy="122.29" r="3.45"/><circle cx="303.85" cy="122.65" r="3.45"/><circle cx="297.69" cy="122.83" r="3.45"/><circle cx="315.29" cy="123.27" r="3.45"/><circle cx="323.09" cy="123.53" r="3.45"/><circle cx="309.86" cy="123.87" r="3.45"/><circle cx="318.26" cy="124.17" r="3.45"/><circle cx="301.36" cy="124.49" r="3.45"/><circle cx="325.88" cy="124.88" r="3.45"/><circle cx="312.98" cy="125.34" r="3.45"/><circle cx="307.21" cy="125.48" r="3.45"/><circle cx="320.84" cy="125.89" r="3.45"/><circle cx="304.20" cy="126.19" r="3.45"/><circle cx="315.73" cy="126.75" r="3.45"/><circle cx="310.44" cy="127.12" r="3.45"/><circle cx="323.55" cy="127.39" r="3.45"/><circle cx="301.57" cy="127.84" r="3.45"/><circle cx="318.41" cy="128.32" r="3.45"/><circle cx="313.35" cy="128.74" r="3.45"/><circle cx="307.99" cy="129.02" r="3.45"/><circle cx="321.20" cy="129.67" r="3.45"/><circle cx="305.08" cy="130.09" r="3.45"/><circle cx="316.01" cy="130.34" r="3.45"/><circle cx="311.27" cy="131.04" r="3.45"/><circle cx="323.72" cy="131.47" r="3.45"/><circle cx="318.64" cy="131.98" r="3.45"/><circle cx="308.48" cy="132.39" r="3.45"/><circle cx="313.83" cy="132.79" r="3.45"/><circle cx="321.31" cy="133.55" r="3.45"/><circle cx="305.80" cy="133.95" r="3.45"/><circle cx="311.18" cy="134.39" r="3.45"/><circle cx="316.10" cy="134.89" r="3.45"/><circle cx="323.57" cy="135.68" r="3.45"/><circle cx="308.55" cy="136.04" r="3.45"/><circle cx="313.56" cy="136.66" r="3.45"/><circle cx="318.04" cy="137.31" r="3.45"/><circle cx="306.23" cy="138.09" r="3.45"/><circle cx="311.25" cy="138.73" r="3.45"/><circle cx="315.22" cy="139.28" r="3.45"/><circle cx="318.20" cy="140.41" r="3.45"/><circle cx="309.45" cy="141.25" r="3.45"/><circle cx="313.60" cy="142.23" r="3.45"/><circle cx="316.50" cy="143.32" r="3.45"/><circle cx="311.12" cy="144.08" r="3.45"/><circle cx="313.95" cy="145.35" r="3.45"/><circle cx="316.63" cy="146.91" r="3.45"/><circle cx="313.60" cy="149.58" r="3.45"/><circle cx="313.60" cy="46.00" r="3.45"/><circle cx="313.60" cy="60.50" r="3.45"/><circle cx="313.60" cy="155.00" r="3.45"/></g>
<g fill="#fff" stroke="none"><circle cx="385.60" cy="77.67" r="3.45"/><circle cx="387.11" cy="80.38" r="3.45"/><circle cx="385.60" cy="84.42" r="3.45"/><circle cx="388.28" cy="85.98" r="3.45"/><circle cx="384.74" cy="87.40" r="3.45"/><circle cx="381.96" cy="88.76" r="3.45"/><circle cx="386.24" cy="90.12" r="3.45"/><circle cx="383.78" cy="92.01" r="3.45"/><circle cx="387.26" cy="93.04" r="3.45"/><circle cx="381.63" cy="94.25" r="3.45"/><circle cx="385.60" cy="95.67" r="3.45"/><circle cx="388.52" cy="96.71" r="3.45"/><circle cx="383.11" cy="97.51" r="3.45"/><circle cx="385.88" cy="98.90" r="3.45"/><circle cx="389.17" cy="99.74" r="3.45"/><circle cx="384.49" cy="101.67" r="3.45"/><circle cx="386.21" cy="104.25" r="3.45"/><circle cx="383.78" cy="106.18" r="3.45"/><circle cx="386.07" cy="108.26" r="3.45"/><circle cx="382.15" cy="108.81" r="3.45"/><circle cx="388.57" cy="110.09" r="3.45"/><circle cx="379.66" cy="110.66" r="3.45"/><circle cx="385.60" cy="111.58" r="3.45"/><circle cx="382.54" cy="112.09" r="3.45"/><circle cx="390.17" cy="112.75" r="3.45"/><circle cx="378.57" cy="113.56" r="3.45"/><circle cx="393.00" cy="114.00" r="3.45"/><circle cx="386.54" cy="114.53" r="3.45"/><circle cx="383.50" cy="115.14" r="3.45"/><circle cx="376.36" cy="115.73" r="3.45"/><circle cx="389.07" cy="116.32" r="3.45"/><circle cx="380.87" cy="116.77" r="3.45"/><circle cx="385.57" cy="117.48" r="3.45"/><circle cx="391.71" cy="117.96" r="3.45"/><circle cx="378.30" cy="118.50" r="3.45"/><circle cx="394.63" cy="119.00" r="3.45"/><circle cx="387.72" cy="119.71" r="3.45"/><circle cx="384.07" cy="120.19" r="3.45"/><circle cx="381.00" cy="120.60" r="3.45"/><circle cx="390.32" cy="121.40" r="3.45"/><circle cx="378.30" cy="122.12" r="3.45"/><circle cx="386.10" cy="122.53" r="3.45"/><circle cx="383.10" cy="123.33" r="3.45"/><circle cx="392.37" cy="123.73" r="3.45"/><circle cx="388.50" cy="124.49" r="3.45"/><circle cx="380.55" cy="125.08" r="3.45"/><circle cx="385.60" cy="125.73" r="3.45"/><circle cx="390.86" cy="126.50" r="3.45"/><circle cx="378.11" cy="127.00" r="3.45"/><circle cx="387.95" cy="127.76" r="3.45"/><circle cx="383.68" cy="128.16" r="3.45"/><circle cx="393.19" cy="128.54" r="3.45"/><circle cx="380.76" cy="129.20" r="3.45"/><circle cx="390.22" cy="129.86" r="3.45"/><circle cx="377.81" cy="130.17" r="3.45"/><circle cx="385.73" cy="130.49" r="3.45"/><circle cx="395.13" cy="130.96" r="3.45"/><circle cx="374.93" cy="131.30" r="3.45"/><circle cx="382.96" cy="131.89" r="3.45"/><circle cx="392.22" cy="132.23" r="3.45"/><circle cx="388.07" cy="132.52" r="3.45"/><circle cx="380.00" cy="132.80" r="3.45"/><circle cx="397.33" cy="133.15" r="3.45"/><circle cx="372.59" cy="133.34" r="3.45"/><circle cx="377.02" cy="133.68" r="3.45"/><circle cx="385.37" cy="134.03" r="3.45"/><circle cx="400.21" cy="134.30" r="3.45"/><circle cx="394.29" cy="134.54" r="3.45"/><circle cx="382.43" cy="135.03" r="3.45"/><circle cx="389.60" cy="135.21" r="3.45"/><circle cx="370.39" cy="135.52" r="3.45"/><circle cx="374.74" cy="135.77" r="3.45"/><circle cx="379.50" cy="136.04" r="3.45"/><circle cx="396.80" cy="136.35" r="3.45"/><circle cx="402.14" cy="136.73" r="3.45"/><circle cx="386.30" cy="136.99" r="3.45"/><circle cx="391.98" cy="137.20" r="3.45"/><circle cx="367.93" cy="137.41" r="3.45"/><circle cx="405.03" cy="137.84" r="3.45"/><circle cx="383.38" cy="138.02" r="3.45"/><circle cx="389.08" cy="138.36" r="3.45"/><circle cx="377.64" cy="138.53" r="3.45"/><circle cx="394.56" cy="138.92" r="3.45"/><circle cx="374.61" cy="139.15" r="3.45"/><circle cx="380.62" cy="139.44" r="3.45"/><circle cx="397.56" cy="139.70" r="3.45"/><circle cx="371.62" cy="139.96" r="3.45"/><circle cx="385.60" cy="140.28" r="3.45"/><circle cx="391.18" cy="140.64" r="3.45"/><circle cx="400.48" cy="140.76" r="3.45"/><circle cx="368.72" cy="141.08" r="3.45"/><circle cx="403.53" cy="141.31" r="3.45"/><circle cx="382.86" cy="141.73" r="3.45"/><circle cx="388.17" cy="142.01" r="3.45"/><circle cx="379.22" cy="142.21" r="3.45"/><circle cx="393.63" cy="142.54" r="3.45"/><circle cx="376.20" cy="142.88" r="3.45"/><circle cx="396.66" cy="143.18" r="3.45"/><circle cx="373.14" cy="143.38" r="3.45"/><circle cx="385.60" cy="143.83" r="3.45"/><circle cx="390.45" cy="144.12" r="3.45"/><circle cx="399.56" cy="144.29" r="3.45"/><circle cx="382.17" cy="144.76" r="3.45"/><circle cx="370.52" cy="145.05" r="3.45"/><circle cx="379.13" cy="145.38" r="3.45"/><circle cx="393.15" cy="145.64" r="3.45"/><circle cx="375.45" cy="145.89" r="3.45"/><circle cx="387.37" cy="146.38" r="3.45"/><circle cx="396.08" cy="146.63" r="3.45"/><circle cx="401.21" cy="146.91" r="3.45"/><circle cx="384.38" cy="147.22" r="3.45"/><circle cx="390.18" cy="147.70" r="3.45"/><circle cx="381.36" cy="147.91" r="3.45"/><circle cx="378.00" cy="148.26" r="3.45"/><circle cx="373.94" cy="148.60" r="3.45"/><circle cx="393.00" cy="148.97" r="3.45"/><circle cx="397.75" cy="149.25" r="3.45"/><circle cx="386.52" cy="149.46" r="3.45"/><circle cx="371.11" cy="149.87" r="3.45"/><circle cx="400.71" cy="150.17" r="3.45"/><circle cx="383.60" cy="150.50" r="3.45"/><circle cx="389.29" cy="150.86" r="3.45"/><circle cx="380.56" cy="151.09" r="3.45"/><circle cx="377.47" cy="151.41" r="3.45"/><circle cx="394.41" cy="151.73" r="3.45"/><circle cx="374.45" cy="152.11" r="3.45"/><circle cx="397.44" cy="152.40" r="3.45"/><circle cx="385.60" cy="152.90" r="3.45"/><circle cx="391.35" cy="153.18" r="3.45"/><circle cx="382.56" cy="153.52" r="3.45"/><circle cx="371.90" cy="153.87" r="3.45"/><circle cx="388.35" cy="154.33" r="3.45"/><circle cx="379.71" cy="154.74" r="3.45"/><circle cx="393.68" cy="155.22" r="3.45"/><circle cx="376.79" cy="155.78" r="3.45"/><circle cx="385.60" cy="156.36" r="3.45"/><circle cx="382.59" cy="157.11" r="3.45"/><circle cx="388.29" cy="157.90" r="3.45"/><circle cx="391.38" cy="158.18" r="3.45"/><circle cx="380.36" cy="159.26" r="3.45"/><circle cx="385.60" cy="160.46" r="3.45"/><circle cx="388.65" cy="161.03" r="3.45"/><circle cx="383.07" cy="162.25" r="3.45"/><circle cx="380.00" cy="162.67" r="3.45"/><circle cx="385.82" cy="163.68" r="3.45"/><circle cx="388.84" cy="164.37" r="3.45"/><circle cx="382.03" cy="165.17" r="3.45"/><circle cx="391.73" cy="165.50" r="3.45"/><circle cx="379.14" cy="166.31" r="3.45"/><circle cx="385.60" cy="167.29" r="3.45"/><circle cx="388.67" cy="167.74" r="3.45"/><circle cx="382.79" cy="168.60" r="3.45"/><circle cx="390.86" cy="169.93" r="3.45"/><circle cx="385.60" cy="171.55" r="3.45"/><circle cx="388.53" cy="172.56" r="3.45"/><circle cx="384.85" cy="174.56" r="3.45"/><circle cx="386.90" cy="176.88" r="3.45"/><circle cx="385.60" cy="180.06" r="3.45"/><circle cx="385.60" cy="183.55" r="3.45"/><circle cx="385.60" cy="68.70" r="3.45"/><circle cx="385.60" cy="189.30" r="3.45"/></g>
<g fill="none" stroke="#ab1456" stroke-width="1.0"><circle cx="385.60" cy="77.67" r="3.45"/><circle cx="387.11" cy="80.38" r="3.45"/><circle cx="385.60" cy="84.42" r="3.45"/><circle cx="388.28" cy="85.98" r="3.45"/><circle cx="384.74" cy="87.40" r="3.45"/><circle cx="381.96" cy="88.76" r="3.45"/><circle cx="386.24" cy="90.12" r="3.45"/><circle cx="383.78" cy="92.01" r="3.45"/><circle cx="387.26" cy="93.04" r="3.45"/><circle cx="381.63" cy="94.25" r="3.45"/><circle cx="385.60" cy="95.67" r="3.45"/><circle cx="388.52" cy="96.71" r="3.45"/><circle cx="383.11" cy="97.51" r="3.45"/><circle cx="385.88" cy="98.90" r="3.45"/><circle cx="389.17" cy="99.74" r="3.45"/><circle cx="384.49" cy="101.67" r="3.45"/><circle cx="386.21" cy="104.25" r="3.45"/><circle cx="383.78" cy="106.18" r="3.45"/><circle cx="386.07" cy="108.26" r="3.45"/><circle cx="382.15" cy="108.81" r="3.45"/><circle cx="388.57" cy="110.09" r="3.45"/><circle cx="379.66" cy="110.66" r="3.45"/><circle cx="385.60" cy="111.58" r="3.45"/><circle cx="382.54" cy="112.09" r="3.45"/><circle cx="390.17" cy="112.75" r="3.45"/><circle cx="378.57" cy="113.56" r="3.45"/><circle cx="393.00" cy="114.00" r="3.45"/><circle cx="386.54" cy="114.53" r="3.45"/><circle cx="383.50" cy="115.14" r="3.45"/><circle cx="376.36" cy="115.73" r="3.45"/><circle cx="389.07" cy="116.32" r="3.45"/><circle cx="380.87" cy="116.77" r="3.45"/><circle cx="385.57" cy="117.48" r="3.45"/><circle cx="391.71" cy="117.96" r="3.45"/><circle cx="378.30" cy="118.50" r="3.45"/><circle cx="394.63" cy="119.00" r="3.45"/><circle cx="387.72" cy="119.71" r="3.45"/><circle cx="384.07" cy="120.19" r="3.45"/><circle cx="381.00" cy="120.60" r="3.45"/><circle cx="390.32" cy="121.40" r="3.45"/><circle cx="378.30" cy="122.12" r="3.45"/><circle cx="386.10" cy="122.53" r="3.45"/><circle cx="383.10" cy="123.33" r="3.45"/><circle cx="392.37" cy="123.73" r="3.45"/><circle cx="388.50" cy="124.49" r="3.45"/><circle cx="380.55" cy="125.08" r="3.45"/><circle cx="385.60" cy="125.73" r="3.45"/><circle cx="390.86" cy="126.50" r="3.45"/><circle cx="378.11" cy="127.00" r="3.45"/><circle cx="387.95" cy="127.76" r="3.45"/><circle cx="383.68" cy="128.16" r="3.45"/><circle cx="393.19" cy="128.54" r="3.45"/><circle cx="380.76" cy="129.20" r="3.45"/><circle cx="390.22" cy="129.86" r="3.45"/><circle cx="377.81" cy="130.17" r="3.45"/><circle cx="385.73" cy="130.49" r="3.45"/><circle cx="395.13" cy="130.96" r="3.45"/><circle cx="374.93" cy="131.30" r="3.45"/><circle cx="382.96" cy="131.89" r="3.45"/><circle cx="392.22" cy="132.23" r="3.45"/><circle cx="388.07" cy="132.52" r="3.45"/><circle cx="380.00" cy="132.80" r="3.45"/><circle cx="397.33" cy="133.15" r="3.45"/><circle cx="372.59" cy="133.34" r="3.45"/><circle cx="377.02" cy="133.68" r="3.45"/><circle cx="385.37" cy="134.03" r="3.45"/><circle cx="400.21" cy="134.30" r="3.45"/><circle cx="394.29" cy="134.54" r="3.45"/><circle cx="382.43" cy="135.03" r="3.45"/><circle cx="389.60" cy="135.21" r="3.45"/><circle cx="370.39" cy="135.52" r="3.45"/><circle cx="374.74" cy="135.77" r="3.45"/><circle cx="379.50" cy="136.04" r="3.45"/><circle cx="396.80" cy="136.35" r="3.45"/><circle cx="402.14" cy="136.73" r="3.45"/><circle cx="386.30" cy="136.99" r="3.45"/><circle cx="391.98" cy="137.20" r="3.45"/><circle cx="367.93" cy="137.41" r="3.45"/><circle cx="405.03" cy="137.84" r="3.45"/><circle cx="383.38" cy="138.02" r="3.45"/><circle cx="389.08" cy="138.36" r="3.45"/><circle cx="377.64" cy="138.53" r="3.45"/><circle cx="394.56" cy="138.92" r="3.45"/><circle cx="374.61" cy="139.15" r="3.45"/><circle cx="380.62" cy="139.44" r="3.45"/><circle cx="397.56" cy="139.70" r="3.45"/><circle cx="371.62" cy="139.96" r="3.45"/><circle cx="385.60" cy="140.28" r="3.45"/><circle cx="391.18" cy="140.64" r="3.45"/><circle cx="400.48" cy="140.76" r="3.45"/><circle cx="368.72" cy="141.08" r="3.45"/><circle cx="403.53" cy="141.31" r="3.45"/><circle cx="382.86" cy="141.73" r="3.45"/><circle cx="388.17" cy="142.01" r="3.45"/><circle cx="379.22" cy="142.21" r="3.45"/><circle cx="393.63" cy="142.54" r="3.45"/><circle cx="376.20" cy="142.88" r="3.45"/><circle cx="396.66" cy="143.18" r="3.45"/><circle cx="373.14" cy="143.38" r="3.45"/><circle cx="385.60" cy="143.83" r="3.45"/><circle cx="390.45" cy="144.12" r="3.45"/><circle cx="399.56" cy="144.29" r="3.45"/><circle cx="382.17" cy="144.76" r="3.45"/><circle cx="370.52" cy="145.05" r="3.45"/><circle cx="379.13" cy="145.38" r="3.45"/><circle cx="393.15" cy="145.64" r="3.45"/><circle cx="375.45" cy="145.89" r="3.45"/><circle cx="387.37" cy="146.38" r="3.45"/><circle cx="396.08" cy="146.63" r="3.45"/><circle cx="401.21" cy="146.91" r="3.45"/><circle cx="384.38" cy="147.22" r="3.45"/><circle cx="390.18" cy="147.70" r="3.45"/><circle cx="381.36" cy="147.91" r="3.45"/><circle cx="378.00" cy="148.26" r="3.45"/><circle cx="373.94" cy="148.60" r="3.45"/><circle cx="393.00" cy="148.97" r="3.45"/><circle cx="397.75" cy="149.25" r="3.45"/><circle cx="386.52" cy="149.46" r="3.45"/><circle cx="371.11" cy="149.87" r="3.45"/><circle cx="400.71" cy="150.17" r="3.45"/><circle cx="383.60" cy="150.50" r="3.45"/><circle cx="389.29" cy="150.86" r="3.45"/><circle cx="380.56" cy="151.09" r="3.45"/><circle cx="377.47" cy="151.41" r="3.45"/><circle cx="394.41" cy="151.73" r="3.45"/><circle cx="374.45" cy="152.11" r="3.45"/><circle cx="397.44" cy="152.40" r="3.45"/><circle cx="385.60" cy="152.90" r="3.45"/><circle cx="391.35" cy="153.18" r="3.45"/><circle cx="382.56" cy="153.52" r="3.45"/><circle cx="371.90" cy="153.87" r="3.45"/><circle cx="388.35" cy="154.33" r="3.45"/><circle cx="379.71" cy="154.74" r="3.45"/><circle cx="393.68" cy="155.22" r="3.45"/><circle cx="376.79" cy="155.78" r="3.45"/><circle cx="385.60" cy="156.36" r="3.45"/><circle cx="382.59" cy="157.11" r="3.45"/><circle cx="388.29" cy="157.90" r="3.45"/><circle cx="391.38" cy="158.18" r="3.45"/><circle cx="380.36" cy="159.26" r="3.45"/><circle cx="385.60" cy="160.46" r="3.45"/><circle cx="388.65" cy="161.03" r="3.45"/><circle cx="383.07" cy="162.25" r="3.45"/><circle cx="380.00" cy="162.67" r="3.45"/><circle cx="385.82" cy="163.68" r="3.45"/><circle cx="388.84" cy="164.37" r="3.45"/><circle cx="382.03" cy="165.17" r="3.45"/><circle cx="391.73" cy="165.50" r="3.45"/><circle cx="379.14" cy="166.31" r="3.45"/><circle cx="385.60" cy="167.29" r="3.45"/><circle cx="388.67" cy="167.74" r="3.45"/><circle cx="382.79" cy="168.60" r="3.45"/><circle cx="390.86" cy="169.93" r="3.45"/><circle cx="385.60" cy="171.55" r="3.45"/><circle cx="388.53" cy="172.56" r="3.45"/><circle cx="384.85" cy="174.56" r="3.45"/><circle cx="386.90" cy="176.88" r="3.45"/><circle cx="385.60" cy="180.06" r="3.45"/><circle cx="385.60" cy="183.55" r="3.45"/><circle cx="385.60" cy="68.70" r="3.45"/><circle cx="385.60" cy="189.30" r="3.45"/></g>
<line x1="284.10" y1="118.60" x2="343.10" y2="118.60" stroke="#932a6b" stroke-width="1.25" />
<line x1="313.60" y1="105.30" x2="313.60" y2="128.30" stroke="#932a6b" stroke-width="1.25" />
<line x1="302.30" y1="105.30" x2="324.90" y2="105.30" stroke="#932a6b" stroke-width="1.25" />
<line x1="302.30" y1="128.30" x2="324.90" y2="128.30" stroke="#932a6b" stroke-width="1.25" />
<line x1="356.10" y1="140.00" x2="415.10" y2="140.00" stroke="#5378aa" stroke-width="1.05" />
<line x1="385.60" y1="124.30" x2="385.60" y2="150.60" stroke="#5378aa" stroke-width="1.05" />
<line x1="374.30" y1="124.30" x2="396.90" y2="124.30" stroke="#5378aa" stroke-width="1.05" />
<line x1="374.30" y1="150.60" x2="396.90" y2="150.60" stroke="#5378aa" stroke-width="1.05" />
<line x1="493.50" y1="42.50" x2="493.50" y2="194.00" stroke="#484848" stroke-width="1.15" />
<line x1="493.00" y1="193.50" x2="661.00" y2="193.50" stroke="#484848" stroke-width="1.15" />
<line x1="487.00" y1="42.50" x2="493.50" y2="42.50" stroke="#484848" stroke-width="1.15" />
<text x="485.30" y="46.50" font-size="10.4" text-anchor="end" fill="#1a1a1a" >10</text>
<line x1="487.00" y1="92.50" x2="493.50" y2="92.50" stroke="#484848" stroke-width="1.15" />
<text x="485.30" y="96.50" font-size="10.4" text-anchor="end" fill="#1a1a1a" >5</text>
<line x1="487.00" y1="142.50" x2="493.50" y2="142.50" stroke="#484848" stroke-width="1.15" />
<text x="485.30" y="146.50" font-size="10.4" text-anchor="end" fill="#1a1a1a" >0</text>
<line x1="487.00" y1="192.50" x2="493.50" y2="192.50" stroke="#484848" stroke-width="1.15" />
<text x="485.30" y="196.50" font-size="10.4" text-anchor="end" fill="#1a1a1a" >-5</text>
<line x1="540.60" y1="193.50" x2="540.60" y2="200.00" stroke="#484848" stroke-width="1.15" />
<text x="540.60" y="211.60" font-size="10.4" text-anchor="middle" fill="#1a1a1a" >HD</text>
<text x="540.60" y="222.80" font-size="10.4" text-anchor="middle" fill="#1a1a1a" >n=129</text>
<line x1="612.40" y1="193.50" x2="612.40" y2="200.00" stroke="#484848" stroke-width="1.15" />
<text x="612.40" y="211.60" font-size="10.4" text-anchor="middle" fill="#1a1a1a" >BC</text>
<text x="612.40" y="222.80" font-size="10.4" text-anchor="middle" fill="#1a1a1a" >n=161</text>
<line x1="497.7" y1="142.50" x2="661" y2="142.50" stroke="#111" stroke-width="1.7" stroke-dasharray="1.7 2.4"/>
<text transform="translate(464,119.3) rotate(-90)" font-size="10.6" text-anchor="middle" fill="#1a1a1a">Relative Expression (<tspan font-style="italic">&#916;</tspan>CT)</text>
<text x="576.30" y="22.40" font-size="10.4" text-anchor="middle" fill="#1a1a1a" >piR-2570061</text>
<line x1="540.60" y1="44.40" x2="612.40" y2="44.40" stroke="#222" stroke-width="1.2" />
<path d="M564.25,31.70L564.25,38.90M561.13,33.50L567.37,37.10M567.37,33.50L561.13,37.10" stroke="#111" stroke-width="1.35" fill="none"/><circle cx="564.25" cy="35.30" r="1.25" fill="#111"/>
<path d="M572.75,31.70L572.75,38.90M569.63,33.50L575.87,37.10M575.87,33.50L569.63,37.10" stroke="#111" stroke-width="1.35" fill="none"/><circle cx="572.75" cy="35.30" r="1.25" fill="#111"/>
<path d="M581.25,31.70L581.25,38.90M578.13,33.50L584.37,37.10M584.37,33.50L578.13,37.10" stroke="#111" stroke-width="1.35" fill="none"/><circle cx="581.25" cy="35.30" r="1.25" fill="#111"/>
<path d="M589.75,31.70L589.75,38.90M586.63,33.50L592.87,37.10M592.87,33.50L586.63,37.10" stroke="#111" stroke-width="1.35" fill="none"/><circle cx="589.75" cy="35.30" r="1.25" fill="#111"/>
<g fill="#fff" stroke="none"><circle cx="540.60" cy="60.76" r="3.45"/><circle cx="541.36" cy="64.18" r="3.45"/><circle cx="538.54" cy="66.26" r="3.45"/><circle cx="542.53" cy="67.48" r="3.45"/><circle cx="535.89" cy="68.54" r="3.45"/><circle cx="539.76" cy="69.62" r="3.45"/><circle cx="542.62" cy="71.62" r="3.45"/><circle cx="539.82" cy="73.73" r="3.45"/><circle cx="540.60" cy="77.49" r="3.45"/><circle cx="540.60" cy="81.80" r="3.45"/><circle cx="542.18" cy="84.92" r="3.45"/><circle cx="539.35" cy="86.99" r="3.45"/><circle cx="542.26" cy="88.94" r="3.45"/><circle cx="538.36" cy="90.34" r="3.45"/><circle cx="544.57" cy="91.56" r="3.45"/><circle cx="541.04" cy="92.59" r="3.45"/><circle cx="537.05" cy="93.59" r="3.45"/><circle cx="543.45" cy="95.12" r="3.45"/><circle cx="546.91" cy="95.67" r="3.45"/><circle cx="540.25" cy="96.55" r="3.45"/><circle cx="536.84" cy="97.30" r="3.45"/><circle cx="544.65" cy="98.41" r="3.45"/><circle cx="533.61" cy="98.65" r="3.45"/><circle cx="548.04" cy="99.27" r="3.45"/><circle cx="530.26" cy="99.69" r="3.45"/><circle cx="540.60" cy="100.20" r="3.45"/><circle cx="551.23" cy="100.71" r="3.45"/><circle cx="537.29" cy="101.33" r="3.45"/><circle cx="527.34" cy="101.61" r="3.45"/><circle cx="543.43" cy="102.26" r="3.45"/><circle cx="533.96" cy="102.41" r="3.45"/><circle cx="546.86" cy="102.96" r="3.45"/><circle cx="530.61" cy="103.42" r="3.45"/><circle cx="540.39" cy="103.99" r="3.45"/><circle cx="550.00" cy="104.50" r="3.45"/><circle cx="536.62" cy="104.77" r="3.45"/><circle cx="553.42" cy="105.27" r="3.45"/><circle cx="544.10" cy="105.70" r="3.45"/><circle cx="533.51" cy="106.37" r="3.45"/><circle cx="529.76" cy="106.82" r="3.45"/><circle cx="547.29" cy="107.13" r="3.45"/><circle cx="540.60" cy="107.88" r="3.45"/><circle cx="537.16" cy="108.55" r="3.45"/><circle cx="550.35" cy="108.84" r="3.45"/><circle cx="543.60" cy="109.68" r="3.45"/><circle cx="534.27" cy="110.52" r="3.45"/><circle cx="539.63" cy="111.25" r="3.45"/><circle cx="546.47" cy="111.69" r="3.45"/><circle cx="531.13" cy="112.06" r="3.45"/><circle cx="549.79" cy="112.81" r="3.45"/><circle cx="542.48" cy="113.27" r="3.45"/><circle cx="537.44" cy="113.98" r="3.45"/><circle cx="533.96" cy="114.35" r="3.45"/><circle cx="529.00" cy="114.84" r="3.45"/><circle cx="545.20" cy="115.47" r="3.45"/><circle cx="551.59" cy="115.81" r="3.45"/><circle cx="540.60" cy="116.49" r="3.45"/><circle cx="554.87" cy="117.02" r="3.45"/><circle cx="537.24" cy="117.48" r="3.45"/><circle cx="547.85" cy="117.76" r="3.45"/><circle cx="533.84" cy="118.30" r="3.45"/><circle cx="543.24" cy="118.79" r="3.45"/><circle cx="530.46" cy="119.21" r="3.45"/><circle cx="550.78" cy="119.67" r="3.45"/><circle cx="539.96" cy="119.99" r="3.45"/><circle cx="527.20" cy="120.49" r="3.45"/><circle cx="536.63" cy="121.08" r="3.45"/><circle cx="545.41" cy="121.53" r="3.45"/><circle cx="533.23" cy="121.90" r="3.45"/><circle cx="552.92" cy="122.44" r="3.45"/><circle cx="541.92" cy="122.89" r="3.45"/><circle cx="548.41" cy="123.34" r="3.45"/><circle cx="530.18" cy="123.63" r="3.45"/><circle cx="538.63" cy="124.06" r="3.45"/><circle cx="526.81" cy="124.56" r="3.45"/><circle cx="535.22" cy="124.88" r="3.45"/><circle cx="544.48" cy="125.28" r="3.45"/><circle cx="551.09" cy="125.60" r="3.45"/><circle cx="554.56" cy="126.03" r="3.45"/><circle cx="523.80" cy="126.35" r="3.45"/><circle cx="540.89" cy="126.73" r="3.45"/><circle cx="547.58" cy="126.91" r="3.45"/><circle cx="532.66" cy="127.26" r="3.45"/><circle cx="537.51" cy="127.63" r="3.45"/><circle cx="529.23" cy="127.96" r="3.45"/><circle cx="557.21" cy="128.32" r="3.45"/><circle cx="521.20" cy="128.70" r="3.45"/><circle cx="543.58" cy="128.96" r="3.45"/><circle cx="550.04" cy="129.39" r="3.45"/><circle cx="553.53" cy="129.68" r="3.45"/><circle cx="526.30" cy="129.88" r="3.45"/><circle cx="540.36" cy="130.33" r="3.45"/><circle cx="535.75" cy="130.66" r="3.45"/><circle cx="546.39" cy="131.06" r="3.45"/><circle cx="532.34" cy="131.44" r="3.45"/><circle cx="523.30" cy="131.68" r="3.45"/><circle cx="556.13" cy="132.02" r="3.45"/><circle cx="543.05" cy="132.56" r="3.45"/><circle cx="550.86" cy="132.79" r="3.45"/><circle cx="538.82" cy="133.47" r="3.45"/><circle cx="529.79" cy="133.84" r="3.45"/><circle cx="535.48" cy="134.50" r="3.45"/><circle cx="545.55" cy="135.02" r="3.45"/><circle cx="553.33" cy="135.28" r="3.45"/><circle cx="541.09" cy="136.13" r="3.45"/><circle cx="532.83" cy="136.79" r="3.45"/><circle cx="537.76" cy="137.22" r="3.45"/><circle cx="543.96" cy="138.14" r="3.45"/><circle cx="547.34" cy="139.02" r="3.45"/><circle cx="540.60" cy="139.61" r="3.45"/><circle cx="535.65" cy="140.01" r="3.45"/><circle cx="532.28" cy="140.92" r="3.45"/><circle cx="543.46" cy="141.62" r="3.45"/><circle cx="548.98" cy="142.12" r="3.45"/><circle cx="540.42" cy="143.35" r="3.45"/><circle cx="536.99" cy="144.04" r="3.45"/><circle cx="545.53" cy="144.45" r="3.45"/><circle cx="533.81" cy="145.50" r="3.45"/><circle cx="542.25" cy="146.33" r="3.45"/><circle cx="538.88" cy="147.28" r="3.45"/><circle cx="544.83" cy="148.70" r="3.45"/><circle cx="540.60" cy="150.81" r="3.45"/><circle cx="541.98" cy="154.02" r="3.45"/><circle cx="538.74" cy="155.35" r="3.45"/><circle cx="540.60" cy="47.40" r="3.45"/><circle cx="540.60" cy="165.00" r="3.45"/><circle cx="540.60" cy="171.20" r="3.45"/><circle cx="540.60" cy="176.00" r="3.45"/><circle cx="540.60" cy="187.10" r="3.45"/></g>
<g fill="none" stroke="#3f73ab" stroke-width="0.9"><circle cx="540.60" cy="60.76" r="3.45"/><circle cx="541.36" cy="64.18" r="3.45"/><circle cx="538.54" cy="66.26" r="3.45"/><circle cx="542.53" cy="67.48" r="3.45"/><circle cx="535.89" cy="68.54" r="3.45"/><circle cx="539.76" cy="69.62" r="3.45"/><circle cx="542.62" cy="71.62" r="3.45"/><circle cx="539.82" cy="73.73" r="3.45"/><circle cx="540.60" cy="77.49" r="3.45"/><circle cx="540.60" cy="81.80" r="3.45"/><circle cx="542.18" cy="84.92" r="3.45"/><circle cx="539.35" cy="86.99" r="3.45"/><circle cx="542.26" cy="88.94" r="3.45"/><circle cx="538.36" cy="90.34" r="3.45"/><circle cx="544.57" cy="91.56" r="3.45"/><circle cx="541.04" cy="92.59" r="3.45"/><circle cx="537.05" cy="93.59" r="3.45"/><circle cx="543.45" cy="95.12" r="3.45"/><circle cx="546.91" cy="95.67" r="3.45"/><circle cx="540.25" cy="96.55" r="3.45"/><circle cx="536.84" cy="97.30" r="3.45"/><circle cx="544.65" cy="98.41" r="3.45"/><circle cx="533.61" cy="98.65" r="3.45"/><circle cx="548.04" cy="99.27" r="3.45"/><circle cx="530.26" cy="99.69" r="3.45"/><circle cx="540.60" cy="100.20" r="3.45"/><circle cx="551.23" cy="100.71" r="3.45"/><circle cx="537.29" cy="101.33" r="3.45"/><circle cx="527.34" cy="101.61" r="3.45"/><circle cx="543.43" cy="102.26" r="3.45"/><circle cx="533.96" cy="102.41" r="3.45"/><circle cx="546.86" cy="102.96" r="3.45"/><circle cx="530.61" cy="103.42" r="3.45"/><circle cx="540.39" cy="103.99" r="3.45"/><circle cx="550.00" cy="104.50" r="3.45"/><circle cx="536.62" cy="104.77" r="3.45"/><circle cx="553.42" cy="105.27" r="3.45"/><circle cx="544.10" cy="105.70" r="3.45"/><circle cx="533.51" cy="106.37" r="3.45"/><circle cx="529.76" cy="106.82" r="3.45"/><circle cx="547.29" cy="107.13" r="3.45"/><circle cx="540.60" cy="107.88" r="3.45"/><circle cx="537.16" cy="108.55" r="3.45"/><circle cx="550.35" cy="108.84" r="3.45"/><circle cx="543.60" cy="109.68" r="3.45"/><circle cx="534.27" cy="110.52" r="3.45"/><circle cx="539.63" cy="111.25" r="3.45"/><circle cx="546.47" cy="111.69" r="3.45"/><circle cx="531.13" cy="112.06" r="3.45"/><circle cx="549.79" cy="112.81" r="3.45"/><circle cx="542.48" cy="113.27" r="3.45"/><circle cx="537.44" cy="113.98" r="3.45"/><circle cx="533.96" cy="114.35" r="3.45"/><circle cx="529.00" cy="114.84" r="3.45"/><circle cx="545.20" cy="115.47" r="3.45"/><circle cx="551.59" cy="115.81" r="3.45"/><circle cx="540.60" cy="116.49" r="3.45"/><circle cx="554.87" cy="117.02" r="3.45"/><circle cx="537.24" cy="117.48" r="3.45"/><circle cx="547.85" cy="117.76" r="3.45"/><circle cx="533.84" cy="118.30" r="3.45"/><circle cx="543.24" cy="118.79" r="3.45"/><circle cx="530.46" cy="119.21" r="3.45"/><circle cx="550.78" cy="119.67" r="3.45"/><circle cx="539.96" cy="119.99" r="3.45"/><circle cx="527.20" cy="120.49" r="3.45"/><circle cx="536.63" cy="121.08" r="3.45"/><circle cx="545.41" cy="121.53" r="3.45"/><circle cx="533.23" cy="121.90" r="3.45"/><circle cx="552.92" cy="122.44" r="3.45"/><circle cx="541.92" cy="122.89" r="3.45"/><circle cx="548.41" cy="123.34" r="3.45"/><circle cx="530.18" cy="123.63" r="3.45"/><circle cx="538.63" cy="124.06" r="3.45"/><circle cx="526.81" cy="124.56" r="3.45"/><circle cx="535.22" cy="124.88" r="3.45"/><circle cx="544.48" cy="125.28" r="3.45"/><circle cx="551.09" cy="125.60" r="3.45"/><circle cx="554.56" cy="126.03" r="3.45"/><circle cx="523.80" cy="126.35" r="3.45"/><circle cx="540.89" cy="126.73" r="3.45"/><circle cx="547.58" cy="126.91" r="3.45"/><circle cx="532.66" cy="127.26" r="3.45"/><circle cx="537.51" cy="127.63" r="3.45"/><circle cx="529.23" cy="127.96" r="3.45"/><circle cx="557.21" cy="128.32" r="3.45"/><circle cx="521.20" cy="128.70" r="3.45"/><circle cx="543.58" cy="128.96" r="3.45"/><circle cx="550.04" cy="129.39" r="3.45"/><circle cx="553.53" cy="129.68" r="3.45"/><circle cx="526.30" cy="129.88" r="3.45"/><circle cx="540.36" cy="130.33" r="3.45"/><circle cx="535.75" cy="130.66" r="3.45"/><circle cx="546.39" cy="131.06" r="3.45"/><circle cx="532.34" cy="131.44" r="3.45"/><circle cx="523.30" cy="131.68" r="3.45"/><circle cx="556.13" cy="132.02" r="3.45"/><circle cx="543.05" cy="132.56" r="3.45"/><circle cx="550.86" cy="132.79" r="3.45"/><circle cx="538.82" cy="133.47" r="3.45"/><circle cx="529.79" cy="133.84" r="3.45"/><circle cx="535.48" cy="134.50" r="3.45"/><circle cx="545.55" cy="135.02" r="3.45"/><circle cx="553.33" cy="135.28" r="3.45"/><circle cx="541.09" cy="136.13" r="3.45"/><circle cx="532.83" cy="136.79" r="3.45"/><circle cx="537.76" cy="137.22" r="3.45"/><circle cx="543.96" cy="138.14" r="3.45"/><circle cx="547.34" cy="139.02" r="3.45"/><circle cx="540.60" cy="139.61" r="3.45"/><circle cx="535.65" cy="140.01" r="3.45"/><circle cx="532.28" cy="140.92" r="3.45"/><circle cx="543.46" cy="141.62" r="3.45"/><circle cx="548.98" cy="142.12" r="3.45"/><circle cx="540.42" cy="143.35" r="3.45"/><circle cx="536.99" cy="144.04" r="3.45"/><circle cx="545.53" cy="144.45" r="3.45"/><circle cx="533.81" cy="145.50" r="3.45"/><circle cx="542.25" cy="146.33" r="3.45"/><circle cx="538.88" cy="147.28" r="3.45"/><circle cx="544.83" cy="148.70" r="3.45"/><circle cx="540.60" cy="150.81" r="3.45"/><circle cx="541.98" cy="154.02" r="3.45"/><circle cx="538.74" cy="155.35" r="3.45"/><circle cx="540.60" cy="47.40" r="3.45"/><circle cx="540.60" cy="165.00" r="3.45"/><circle cx="540.60" cy="171.20" r="3.45"/><circle cx="540.60" cy="176.00" r="3.45"/><circle cx="540.60" cy="187.10" r="3.45"/></g>
<g fill="#fff" stroke="none"><circle cx="612.40" cy="76.31" r="3.45"/><circle cx="612.85" cy="79.17" r="3.45"/><circle cx="611.18" cy="81.54" r="3.45"/><circle cx="613.33" cy="83.48" r="3.45"/><circle cx="611.15" cy="85.40" r="3.45"/><circle cx="613.46" cy="87.15" r="3.45"/><circle cx="611.71" cy="89.45" r="3.45"/><circle cx="614.11" cy="91.07" r="3.45"/><circle cx="611.80" cy="92.81" r="3.45"/><circle cx="614.27" cy="94.33" r="3.45"/><circle cx="611.83" cy="95.90" r="3.45"/><circle cx="614.36" cy="97.32" r="3.45"/><circle cx="611.93" cy="98.89" r="3.45"/><circle cx="614.67" cy="100.20" r="3.45"/><circle cx="610.68" cy="101.51" r="3.45"/><circle cx="616.04" cy="102.76" r="3.45"/><circle cx="612.40" cy="104.07" r="3.45"/><circle cx="614.59" cy="105.97" r="3.45"/><circle cx="611.02" cy="106.62" r="3.45"/><circle cx="608.29" cy="107.60" r="3.45"/><circle cx="616.17" cy="108.40" r="3.45"/><circle cx="612.40" cy="109.66" r="3.45"/><circle cx="606.58" cy="109.94" r="3.45"/><circle cx="609.68" cy="110.68" r="3.45"/><circle cx="614.87" cy="111.17" r="3.45"/><circle cx="617.70" cy="111.82" r="3.45"/><circle cx="605.18" cy="112.48" r="3.45"/><circle cx="612.40" cy="113.26" r="3.45"/><circle cx="609.52" cy="113.62" r="3.45"/><circle cx="615.04" cy="114.46" r="3.45"/><circle cx="618.34" cy="114.65" r="3.45"/><circle cx="607.20" cy="115.36" r="3.45"/><circle cx="611.28" cy="115.94" r="3.45"/><circle cx="604.61" cy="116.66" r="3.45"/><circle cx="613.84" cy="117.29" r="3.45"/><circle cx="616.72" cy="117.61" r="3.45"/><circle cx="609.48" cy="118.22" r="3.45"/><circle cx="619.40" cy="118.72" r="3.45"/><circle cx="606.88" cy="119.50" r="3.45"/><circle cx="612.40" cy="120.01" r="3.45"/><circle cx="615.28" cy="120.35" r="3.45"/><circle cx="609.73" cy="121.14" r="3.45"/><circle cx="617.81" cy="121.77" r="3.45"/><circle cx="605.45" cy="122.02" r="3.45"/><circle cx="613.45" cy="122.71" r="3.45"/><circle cx="620.24" cy="123.35" r="3.45"/><circle cx="610.81" cy="123.92" r="3.45"/><circle cx="615.89" cy="124.27" r="3.45"/><circle cx="607.99" cy="124.57" r="3.45"/><circle cx="605.15" cy="125.19" r="3.45"/><circle cx="622.11" cy="125.57" r="3.45"/><circle cx="612.66" cy="126.16" r="3.45"/><circle cx="617.78" cy="126.47" r="3.45"/><circle cx="609.85" cy="126.89" r="3.45"/><circle cx="607.00" cy="127.43" r="3.45"/><circle cx="615.10" cy="127.72" r="3.45"/><circle cx="620.03" cy="128.30" r="3.45"/><circle cx="604.42" cy="128.76" r="3.45"/><circle cx="612.40" cy="129.15" r="3.45"/><circle cx="622.72" cy="129.39" r="3.45"/><circle cx="609.58" cy="129.84" r="3.45"/><circle cx="616.52" cy="130.24" r="3.45"/><circle cx="606.78" cy="130.59" r="3.45"/><circle cx="602.54" cy="130.96" r="3.45"/><circle cx="619.25" cy="131.22" r="3.45"/><circle cx="613.92" cy="131.62" r="3.45"/><circle cx="623.76" cy="132.10" r="3.45"/><circle cx="611.15" cy="132.47" r="3.45"/><circle cx="604.88" cy="132.78" r="3.45"/><circle cx="616.33" cy="133.24" r="3.45"/><circle cx="608.49" cy="133.62" r="3.45"/><circle cx="620.12" cy="133.99" r="3.45"/><circle cx="602.37" cy="134.23" r="3.45"/><circle cx="613.15" cy="134.57" r="3.45"/><circle cx="622.85" cy="134.98" r="3.45"/><circle cx="599.65" cy="135.23" r="3.45"/><circle cx="606.33" cy="135.55" r="3.45"/><circle cx="610.53" cy="135.81" r="3.45"/><circle cx="615.58" cy="136.15" r="3.45"/><circle cx="618.47" cy="136.41" r="3.45"/><circle cx="625.18" cy="136.71" r="3.45"/><circle cx="603.74" cy="136.85" r="3.45"/><circle cx="597.46" cy="137.14" r="3.45"/><circle cx="621.18" cy="137.44" r="3.45"/><circle cx="612.71" cy="137.71" r="3.45"/><circle cx="608.63" cy="138.00" r="3.45"/><circle cx="601.22" cy="138.30" r="3.45"/><circle cx="627.45" cy="138.51" r="3.45"/><circle cx="616.67" cy="138.84" r="3.45"/><circle cx="605.93" cy="139.06" r="3.45"/><circle cx="623.47" cy="139.22" r="3.45"/><circle cx="595.86" cy="139.56" r="3.45"/><circle cx="619.40" cy="139.80" r="3.45"/><circle cx="611.05" cy="140.09" r="3.45"/><circle cx="613.94" cy="140.35" r="3.45"/><circle cx="603.42" cy="140.51" r="3.45"/><circle cx="599.65" cy="140.74" r="3.45"/><circle cx="608.33" cy="141.08" r="3.45"/><circle cx="625.57" cy="141.22" r="3.45"/><circle cx="621.67" cy="141.61" r="3.45"/><circle cx="616.45" cy="141.81" r="3.45"/><circle cx="628.32" cy="142.15" r="3.45"/><circle cx="605.75" cy="142.40" r="3.45"/><circle cx="597.37" cy="142.52" r="3.45"/><circle cx="612.40" cy="142.88" r="3.45"/><circle cx="619.03" cy="143.12" r="3.45"/><circle cx="602.53" cy="143.27" r="3.45"/><circle cx="623.78" cy="143.60" r="3.45"/><circle cx="609.69" cy="143.92" r="3.45"/><circle cx="599.77" cy="144.15" r="3.45"/><circle cx="614.92" cy="144.31" r="3.45"/><circle cx="626.46" cy="144.71" r="3.45"/><circle cx="607.01" cy="145.03" r="3.45"/><circle cx="620.99" cy="145.27" r="3.45"/><circle cx="612.40" cy="145.94" r="3.45"/><circle cx="616.97" cy="146.36" r="3.45"/><circle cx="604.58" cy="146.61" r="3.45"/><circle cx="609.79" cy="147.21" r="3.45"/><circle cx="622.64" cy="147.65" r="3.45"/><circle cx="614.33" cy="148.10" r="3.45"/><circle cx="607.29" cy="148.67" r="3.45"/><circle cx="617.58" cy="149.20" r="3.45"/><circle cx="612.00" cy="149.83" r="3.45"/><circle cx="604.75" cy="150.07" r="3.45"/><circle cx="620.01" cy="150.78" r="3.45"/><circle cx="614.53" cy="151.24" r="3.45"/><circle cx="609.71" cy="151.61" r="3.45"/><circle cx="617.30" cy="152.10" r="3.45"/><circle cx="607.06" cy="152.79" r="3.45"/><circle cx="612.40" cy="153.44" r="3.45"/><circle cx="619.73" cy="153.67" r="3.45"/><circle cx="615.12" cy="154.45" r="3.45"/><circle cx="610.16" cy="155.27" r="3.45"/><circle cx="607.29" cy="155.73" r="3.45"/><circle cx="612.86" cy="156.31" r="3.45"/><circle cx="616.67" cy="156.90" r="3.45"/><circle cx="619.52" cy="157.46" r="3.45"/><circle cx="610.64" cy="158.18" r="3.45"/><circle cx="613.89" cy="159.02" r="3.45"/><circle cx="608.17" cy="159.69" r="3.45"/><circle cx="616.45" cy="160.39" r="3.45"/><circle cx="611.74" cy="160.97" r="3.45"/><circle cx="606.40" cy="161.99" r="3.45"/><circle cx="614.03" cy="162.74" r="3.45"/><circle cx="610.05" cy="163.33" r="3.45"/><circle cx="616.46" cy="164.33" r="3.45"/><circle cx="612.40" cy="165.24" r="3.45"/><circle cx="608.74" cy="165.91" r="3.45"/><circle cx="614.84" cy="166.80" r="3.45"/><circle cx="611.59" cy="168.02" r="3.45"/><circle cx="609.03" cy="169.37" r="3.45"/><circle cx="612.40" cy="171.03" r="3.45"/><circle cx="615.08" cy="172.14" r="3.45"/><circle cx="612.40" cy="173.99" r="3.45"/><circle cx="614.54" cy="175.95" r="3.45"/><circle cx="612.35" cy="177.86" r="3.45"/><circle cx="612.40" cy="181.06" r="3.45"/><circle cx="612.40" cy="184.89" r="3.45"/><circle cx="612.40" cy="61.60" r="3.45"/><circle cx="612.40" cy="188.50" r="3.45"/><circle cx="612.40" cy="191.50" r="3.45"/></g>
<g fill="none" stroke="#ab1456" stroke-width="1.0"><circle cx="612.40" cy="76.31" r="3.45"/><circle cx="612.85" cy="79.17" r="3.45"/><circle cx="611.18" cy="81.54" r="3.45"/><circle cx="613.33" cy="83.48" r="3.45"/><circle cx="611.15" cy="85.40" r="3.45"/><circle cx="613.46" cy="87.15" r="3.45"/><circle cx="611.71" cy="89.45" r="3.45"/><circle cx="614.11" cy="91.07" r="3.45"/><circle cx="611.80" cy="92.81" r="3.45"/><circle cx="614.27" cy="94.33" r="3.45"/><circle cx="611.83" cy="95.90" r="3.45"/><circle cx="614.36" cy="97.32" r="3.45"/><circle cx="611.93" cy="98.89" r="3.45"/><circle cx="614.67" cy="100.20" r="3.45"/><circle cx="610.68" cy="101.51" r="3.45"/><circle cx="616.04" cy="102.76" r="3.45"/><circle cx="612.40" cy="104.07" r="3.45"/><circle cx="614.59" cy="105.97" r="3.45"/><circle cx="611.02" cy="106.62" r="3.45"/><circle cx="608.29" cy="107.60" r="3.45"/><circle cx="616.17" cy="108.40" r="3.45"/><circle cx="612.40" cy="109.66" r="3.45"/><circle cx="606.58" cy="109.94" r="3.45"/><circle cx="609.68" cy="110.68" r="3.45"/><circle cx="614.87" cy="111.17" r="3.45"/><circle cx="617.70" cy="111.82" r="3.45"/><circle cx="605.18" cy="112.48" r="3.45"/><circle cx="612.40" cy="113.26" r="3.45"/><circle cx="609.52" cy="113.62" r="3.45"/><circle cx="615.04" cy="114.46" r="3.45"/><circle cx="618.34" cy="114.65" r="3.45"/><circle cx="607.20" cy="115.36" r="3.45"/><circle cx="611.28" cy="115.94" r="3.45"/><circle cx="604.61" cy="116.66" r="3.45"/><circle cx="613.84" cy="117.29" r="3.45"/><circle cx="616.72" cy="117.61" r="3.45"/><circle cx="609.48" cy="118.22" r="3.45"/><circle cx="619.40" cy="118.72" r="3.45"/><circle cx="606.88" cy="119.50" r="3.45"/><circle cx="612.40" cy="120.01" r="3.45"/><circle cx="615.28" cy="120.35" r="3.45"/><circle cx="609.73" cy="121.14" r="3.45"/><circle cx="617.81" cy="121.77" r="3.45"/><circle cx="605.45" cy="122.02" r="3.45"/><circle cx="613.45" cy="122.71" r="3.45"/><circle cx="620.24" cy="123.35" r="3.45"/><circle cx="610.81" cy="123.92" r="3.45"/><circle cx="615.89" cy="124.27" r="3.45"/><circle cx="607.99" cy="124.57" r="3.45"/><circle cx="605.15" cy="125.19" r="3.45"/><circle cx="622.11" cy="125.57" r="3.45"/><circle cx="612.66" cy="126.16" r="3.45"/><circle cx="617.78" cy="126.47" r="3.45"/><circle cx="609.85" cy="126.89" r="3.45"/><circle cx="607.00" cy="127.43" r="3.45"/><circle cx="615.10" cy="127.72" r="3.45"/><circle cx="620.03" cy="128.30" r="3.45"/><circle cx="604.42" cy="128.76" r="3.45"/><circle cx="612.40" cy="129.15" r="3.45"/><circle cx="622.72" cy="129.39" r="3.45"/><circle cx="609.58" cy="129.84" r="3.45"/><circle cx="616.52" cy="130.24" r="3.45"/><circle cx="606.78" cy="130.59" r="3.45"/><circle cx="602.54" cy="130.96" r="3.45"/><circle cx="619.25" cy="131.22" r="3.45"/><circle cx="613.92" cy="131.62" r="3.45"/><circle cx="623.76" cy="132.10" r="3.45"/><circle cx="611.15" cy="132.47" r="3.45"/><circle cx="604.88" cy="132.78" r="3.45"/><circle cx="616.33" cy="133.24" r="3.45"/><circle cx="608.49" cy="133.62" r="3.45"/><circle cx="620.12" cy="133.99" r="3.45"/><circle cx="602.37" cy="134.23" r="3.45"/><circle cx="613.15" cy="134.57" r="3.45"/><circle cx="622.85" cy="134.98" r="3.45"/><circle cx="599.65" cy="135.23" r="3.45"/><circle cx="606.33" cy="135.55" r="3.45"/><circle cx="610.53" cy="135.81" r="3.45"/><circle cx="615.58" cy="136.15" r="3.45"/><circle cx="618.47" cy="136.41" r="3.45"/><circle cx="625.18" cy="136.71" r="3.45"/><circle cx="603.74" cy="136.85" r="3.45"/><circle cx="597.46" cy="137.14" r="3.45"/><circle cx="621.18" cy="137.44" r="3.45"/><circle cx="612.71" cy="137.71" r="3.45"/><circle cx="608.63" cy="138.00" r="3.45"/><circle cx="601.22" cy="138.30" r="3.45"/><circle cx="627.45" cy="138.51" r="3.45"/><circle cx="616.67" cy="138.84" r="3.45"/><circle cx="605.93" cy="139.06" r="3.45"/><circle cx="623.47" cy="139.22" r="3.45"/><circle cx="595.86" cy="139.56" r="3.45"/><circle cx="619.40" cy="139.80" r="3.45"/><circle cx="611.05" cy="140.09" r="3.45"/><circle cx="613.94" cy="140.35" r="3.45"/><circle cx="603.42" cy="140.51" r="3.45"/><circle cx="599.65" cy="140.74" r="3.45"/><circle cx="608.33" cy="141.08" r="3.45"/><circle cx="625.57" cy="141.22" r="3.45"/><circle cx="621.67" cy="141.61" r="3.45"/><circle cx="616.45" cy="141.81" r="3.45"/><circle cx="628.32" cy="142.15" r="3.45"/><circle cx="605.75" cy="142.40" r="3.45"/><circle cx="597.37" cy="142.52" r="3.45"/><circle cx="612.40" cy="142.88" r="3.45"/><circle cx="619.03" cy="143.12" r="3.45"/><circle cx="602.53" cy="143.27" r="3.45"/><circle cx="623.78" cy="143.60" r="3.45"/><circle cx="609.69" cy="143.92" r="3.45"/><circle cx="599.77" cy="144.15" r="3.45"/><circle cx="614.92" cy="144.31" r="3.45"/><circle cx="626.46" cy="144.71" r="3.45"/><circle cx="607.01" cy="145.03" r="3.45"/><circle cx="620.99" cy="145.27" r="3.45"/><circle cx="612.40" cy="145.94" r="3.45"/><circle cx="616.97" cy="146.36" r="3.45"/><circle cx="604.58" cy="146.61" r="3.45"/><circle cx="609.79" cy="147.21" r="3.45"/><circle cx="622.64" cy="147.65" r="3.45"/><circle cx="614.33" cy="148.10" r="3.45"/><circle cx="607.29" cy="148.67" r="3.45"/><circle cx="617.58" cy="149.20" r="3.45"/><circle cx="612.00" cy="149.83" r="3.45"/><circle cx="604.75" cy="150.07" r="3.45"/><circle cx="620.01" cy="150.78" r="3.45"/><circle cx="614.53" cy="151.24" r="3.45"/><circle cx="609.71" cy="151.61" r="3.45"/><circle cx="617.30" cy="152.10" r="3.45"/><circle cx="607.06" cy="152.79" r="3.45"/><circle cx="612.40" cy="153.44" r="3.45"/><circle cx="619.73" cy="153.67" r="3.45"/><circle cx="615.12" cy="154.45" r="3.45"/><circle cx="610.16" cy="155.27" r="3.45"/><circle cx="607.29" cy="155.73" r="3.45"/><circle cx="612.86" cy="156.31" r="3.45"/><circle cx="616.67" cy="156.90" r="3.45"/><circle cx="619.52" cy="157.46" r="3.45"/><circle cx="610.64" cy="158.18" r="3.45"/><circle cx="613.89" cy="159.02" r="3.45"/><circle cx="608.17" cy="159.69" r="3.45"/><circle cx="616.45" cy="160.39" r="3.45"/><circle cx="611.74" cy="160.97" r="3.45"/><circle cx="606.40" cy="161.99" r="3.45"/><circle cx="614.03" cy="162.74" r="3.45"/><circle cx="610.05" cy="163.33" r="3.45"/><circle cx="616.46" cy="164.33" r="3.45"/><circle cx="612.40" cy="165.24" r="3.45"/><circle cx="608.74" cy="165.91" r="3.45"/><circle cx="614.84" cy="166.80" r="3.45"/><circle cx="611.59" cy="168.02" r="3.45"/><circle cx="609.03" cy="169.37" r="3.45"/><circle cx="612.40" cy="171.03" r="3.45"/><circle cx="615.08" cy="172.14" r="3.45"/><circle cx="612.40" cy="173.99" r="3.45"/><circle cx="614.54" cy="175.95" r="3.45"/><circle cx="612.35" cy="177.86" r="3.45"/><circle cx="612.40" cy="181.06" r="3.45"/><circle cx="612.40" cy="184.89" r="3.45"/><circle cx="612.40" cy="61.60" r="3.45"/><circle cx="612.40" cy="188.50" r="3.45"/><circle cx="612.40" cy="191.50" r="3.45"/></g>
<line x1="511.10" y1="119.50" x2="570.10" y2="119.50" stroke="#932a6b" stroke-width="1.25" />
<line x1="540.60" y1="103.60" x2="540.60" y2="131.30" stroke="#932a6b" stroke-width="1.25" />
<line x1="529.30" y1="103.60" x2="551.90" y2="103.60" stroke="#932a6b" stroke-width="1.25" />
<line x1="529.30" y1="131.30" x2="551.90" y2="131.30" stroke="#932a6b" stroke-width="1.25" />
<line x1="582.90" y1="138.00" x2="641.90" y2="138.00" stroke="#5378aa" stroke-width="1.05" />
<line x1="612.40" y1="121.60" x2="612.40" y2="148.10" stroke="#5378aa" stroke-width="1.05" />
<line x1="601.10" y1="121.60" x2="623.70" y2="121.60" stroke="#5378aa" stroke-width="1.05" />
<line x1="601.10" y1="148.10" x2="623.70" y2="148.10" stroke="#5378aa" stroke-width="1.05" />
<g clip-path="url(#c1)">
<line x1="53.5" y1="427.5" x2="220.5" y2="260.5" stroke="#c83c78" stroke-width="1.15" stroke-dasharray="2.6 1.8"/>
<path d="M53.4,427.0 L53.4,411.6 L54.0,404.4 L54.0,397.2 L55.4,396.3 L55.4,393.6 L56.8,393.6 L56.8,392.7 L59.0,392.7 L59.4,383.2 L63.5,382.8 L66.2,382.8 L66.6,377.4 L66.6,375.3 L66.9,375.3 L66.9,373.2 L67.3,373.2 L67.3,371.1 L67.6,371.1 L67.6,370.2 L70.7,370.2 L72.5,369.3 L73.0,359.4 L73.0,356.7 L74.3,356.7 L74.8,343.2 L74.8,341.4 L77.0,341.4 L77.0,338.9 L77.2,338.9 L77.2,336.4 L77.5,336.4 L77.5,334.0 L77.7,334.0 L77.7,331.5 L77.9,331.5 L82.4,330.6 L91.0,330.6 L91.8,327.0 L91.8,324.3 L94.1,324.3 L94.1,322.5 L95.0,322.5 L95.0,320.7 L95.9,320.7 L95.9,318.0 L98.6,318.0 L98.6,315.8 L99.7,315.8 L99.7,313.5 L100.8,313.5 L104.0,313.0 L104.0,311.7 L106.7,311.7 L106.7,309.0 L109.4,309.0 L109.4,308.0 L111.4,308.0 L111.4,307.0 L113.4,307.0 L113.4,304.5 L116.7,304.5 L116.7,302.4 L118.0,302.4 L118.0,300.3 L119.2,300.3 L119.2,298.2 L120.1,298.2 L120.1,296.1 L120.9,296.1 L120.9,295.0 L123.0,295.0 L123.0,293.9 L125.1,293.9 L125.1,293.7 L127.1,293.7 L127.1,293.5 L129.1,293.5 L129.1,293.2 L131.2,293.2 L131.2,293.0 L133.2,293.0 L133.2,292.8 L135.2,292.8 L135.2,290.3 L136.9,290.3 L136.9,290.0 L138.8,290.0 L138.8,289.7 L140.8,289.7 L140.8,289.4 L142.7,289.4 L142.7,287.4 L143.6,287.4 L143.6,285.5 L144.4,285.5 L144.4,283.5 L145.3,283.5 L145.3,282.2 L147.8,282.2 L147.8,281.0 L150.3,281.0 L150.3,280.1 L152.4,280.1 L152.4,279.3 L154.5,279.3 L154.5,278.9 L156.5,278.9 L156.5,278.6 L158.4,278.6 L158.4,278.2 L160.4,278.2 L160.4,276.8 L163.7,276.8 L163.7,276.0 L165.8,276.0 L165.8,275.1 L167.9,275.1 L167.9,274.7 L169.9,274.7 L169.9,274.2 L171.8,274.2 L171.8,273.8 L173.8,273.8 L173.8,273.4 L176.0,273.4 L176.0,273.0 L178.3,273.0 L178.3,272.6 L180.5,272.6 L180.5,271.0 L182.2,271.0 L188.9,270.1 L188.9,269.1 L190.6,269.1 L190.6,268.1 L192.3,268.1 L192.3,267.5 L194.8,267.5 L194.8,266.8 L197.3,266.8 L197.3,266.0 L199.0,266.0 L199.0,265.1 L200.7,265.1 L200.7,264.5 L202.3,264.5 L202.3,263.9 L204.0,263.9 L204.0,263.6 L206.1,263.6 L206.1,263.2 L208.2,263.2 L208.2,262.9 L210.3,262.9 L210.3,262.6 L212.4,262.6 L212.4,260.9 L214.9,260.9 L220.3,260.2" fill="none" stroke="#3a6ca3" stroke-width="2.0" stroke-linejoin="miter"/>
<rect x="53.5" y="260.5" width="167.0" height="167.0" fill="none" stroke="#484848" stroke-width="1.4"/>
<line x1="47.00" y1="427.50" x2="53.50" y2="427.50" stroke="#484848" stroke-width="1.4" />
<text x="45.30" y="431.40" font-size="10.4" text-anchor="end" fill="#1a1a1a" >0</text>
<line x1="53.50" y1="427.50" x2="53.50" y2="434.00" stroke="#484848" stroke-width="1.4" />
<text x="53.50" y="446.70" font-size="10.4" text-anchor="middle" fill="#1a1a1a" >0</text>
<line x1="47.00" y1="394.10" x2="53.50" y2="394.10" stroke="#484848" stroke-width="1.4" />
<text x="45.30" y="398.00" font-size="10.4" text-anchor="end" fill="#1a1a1a" >20</text>
<line x1="86.90" y1="427.50" x2="86.90" y2="434.00" stroke="#484848" stroke-width="1.4" />
<text x="86.90" y="446.70" font-size="10.4" text-anchor="middle" fill="#1a1a1a" >20</text>
<line x1="47.00" y1="360.70" x2="53.50" y2="360.70" stroke="#484848" stroke-width="1.4" />
<text x="45.30" y="364.60" font-size="10.4" text-anchor="end" fill="#1a1a1a" >40</text>
<line x1="120.30" y1="427.50" x2="120.30" y2="434.00" stroke="#484848" stroke-width="1.4" />
<text x="120.30" y="446.70" font-size="10.4" text-anchor="middle" fill="#1a1a1a" >40</text>
<line x1="47.00" y1="327.30" x2="53.50" y2="327.30" stroke="#484848" stroke-width="1.4" />
<text x="45.30" y="331.20" font-size="10.4" text-anchor="end" fill="#1a1a1a" >60</text>
<line x1="153.70" y1="427.50" x2="153.70" y2="434.00" stroke="#484848" stroke-width="1.4" />
<text x="153.70" y="446.70" font-size="10.4" text-anchor="middle" fill="#1a1a1a" >60</text>
<line x1="47.00" y1="293.90" x2="53.50" y2="293.90" stroke="#484848" stroke-width="1.4" />
<text x="45.30" y="297.80" font-size="10.4" text-anchor="end" fill="#1a1a1a" >80</text>
<line x1="187.10" y1="427.50" x2="187.10" y2="434.00" stroke="#484848" stroke-width="1.4" />
<text x="187.10" y="446.70" font-size="10.4" text-anchor="middle" fill="#1a1a1a" >80</text>
<line x1="47.00" y1="260.50" x2="53.50" y2="260.50" stroke="#484848" stroke-width="1.4" />
<text x="45.30" y="264.40" font-size="10.4" text-anchor="end" fill="#1a1a1a" >100</text>
<line x1="220.50" y1="427.50" x2="220.50" y2="434.00" stroke="#484848" stroke-width="1.4" />
<text x="220.50" y="446.70" font-size="10.4" text-anchor="middle" fill="#1a1a1a" >100</text>
<text x="137.00" y="463.00" font-size="10.4" text-anchor="middle" fill="#1a1a1a" >100% - Specificity%</text>
<text transform="translate(18.2,344.0) rotate(-90)" font-size="10.5" text-anchor="middle" fill="#1a1a1a">Sensitivity%</text>
<text x="137.00" y="254.30" font-size="10.4" text-anchor="middle" fill="#1a1a1a" >piRNA-139966</text>
<text x="217.00" y="421.70" font-size="10.4" text-anchor="end" fill="#1a1a1a" >AUC=0.7492</text>
</g>
<g clip-path="url(#c2)">
<line x1="280.5" y1="427.5" x2="447.5" y2="260.5" stroke="#c83c78" stroke-width="1.15" stroke-dasharray="2.6 1.8"/>
<path d="M280.4,427.5 L280.4,398.6 L280.4,397.6 L281.8,397.6 L281.8,395.7 L282.8,395.7 L282.8,373.4 L283.7,369.5 L283.7,359.8 L283.7,357.9 L284.7,357.9 L284.7,355.9 L285.7,355.9 L286.6,355.0 L290.1,354.6 L290.5,348.2 L290.5,346.3 L290.8,346.3 L290.8,344.3 L291.2,344.3 L291.2,342.4 L291.5,342.4 L291.5,339.4 L292.8,339.4 L292.8,337.5 L293.3,337.5 L293.3,335.5 L293.9,335.5 L293.9,333.6 L294.4,333.6 L294.4,331.7 L294.9,331.7 L294.9,329.8 L295.4,329.8 L295.4,327.8 L297.3,327.8 L297.3,324.9 L299.2,324.9 L299.2,322.0 L301.2,322.0 L301.2,321.0 L303.1,321.0 L303.1,318.1 L305.1,318.1 L305.1,317.1 L307.0,317.1 L307.0,315.2 L308.4,315.2 L308.4,313.3 L309.9,313.3 L309.9,311.3 L311.8,311.3 L315.7,311.3 L315.7,309.9 L317.6,309.9 L317.6,308.4 L319.6,308.4 L319.6,307.8 L321.9,307.8 L321.9,307.1 L324.1,307.1 L324.1,306.5 L326.4,306.5 L326.4,303.6 L328.3,303.6 L328.3,302.8 L330.2,302.8 L330.2,302.0 L332.2,302.0 L332.2,301.2 L334.1,301.2 L334.1,300.5 L336.1,300.5 L336.1,299.7 L338.0,299.7 L338.0,298.7 L339.0,298.7 L346.7,298.3 L346.7,297.5 L348.4,297.5 L348.4,296.6 L350.1,296.6 L350.1,295.0 L352.6,295.0 L352.6,294.7 L355.1,294.7 L355.1,294.3 L357.6,294.3 L357.6,294.0 L360.1,294.0 L360.1,293.1 L361.8,293.1 L361.8,292.3 L363.5,292.3 L368.5,292.3 L368.5,289.9 L370.2,289.9 L370.2,286.9 L372.7,286.9 L372.7,286.0 L374.4,286.0 L374.4,285.2 L376.1,285.2 L376.1,282.4 L379.4,282.4 L379.4,281.9 L381.9,281.9 L381.9,281.5 L384.5,281.5 L384.5,281.0 L387.0,281.0 L387.0,279.0 L388.7,279.0 L388.7,278.1 L391.2,278.1 L391.2,277.2 L393.7,277.2 L403.8,276.8 L406.3,276.0 L413.9,275.5 L413.9,272.6 L416.4,272.6 L416.4,271.0 L418.9,271.0 L418.9,270.1 L421.4,270.1 L421.4,269.3 L423.9,269.3 L423.9,268.5 L425.6,268.5 L425.6,267.6 L427.3,267.6 L427.3,265.9 L428.1,265.9 L428.1,264.2 L429.0,264.2 L429.0,263.6 L431.5,263.6 L431.5,263.1 L434.0,263.1 L434.0,262.6 L436.5,262.6 L436.5,262.0 L439.0,262.0 L442.4,261.4 L442.4,260.9 L444.5,260.9 L444.5,260.4 L446.6,260.4 L447.6,260.5" fill="none" stroke="#3a6ca3" stroke-width="2.0" stroke-linejoin="miter"/>
<rect x="280.5" y="260.5" width="167.0" height="167.0" fill="none" stroke="#484848" stroke-width="1.4"/>
<line x1="274.00" y1="427.50" x2="280.50" y2="427.50" stroke="#484848" stroke-width="1.4" />
<text x="272.30" y="431.40" font-size="10.4" text-anchor="end" fill="#1a1a1a" >0</text>
<line x1="280.50" y1="427.50" x2="280.50" y2="434.00" stroke="#484848" stroke-width="1.4" />
<text x="280.50" y="446.70" font-size="10.4" text-anchor="middle" fill="#1a1a1a" >0</text>
<line x1="274.00" y1="394.10" x2="280.50" y2="394.10" stroke="#484848" stroke-width="1.4" />
<text x="272.30" y="398.00" font-size="10.4" text-anchor="end" fill="#1a1a1a" >20</text>
<line x1="313.90" y1="427.50" x2="313.90" y2="434.00" stroke="#484848" stroke-width="1.4" />
<text x="313.90" y="446.70" font-size="10.4" text-anchor="middle" fill="#1a1a1a" >20</text>
<line x1="274.00" y1="360.70" x2="280.50" y2="360.70" stroke="#484848" stroke-width="1.4" />
<text x="272.30" y="364.60" font-size="10.4" text-anchor="end" fill="#1a1a1a" >40</text>
<line x1="347.30" y1="427.50" x2="347.30" y2="434.00" stroke="#484848" stroke-width="1.4" />
<text x="347.30" y="446.70" font-size="10.4" text-anchor="middle" fill="#1a1a1a" >40</text>
<line x1="274.00" y1="327.30" x2="280.50" y2="327.30" stroke="#484848" stroke-width="1.4" />
<text x="272.30" y="331.20" font-size="10.4" text-anchor="end" fill="#1a1a1a" >60</text>
<line x1="380.70" y1="427.50" x2="380.70" y2="434.00" stroke="#484848" stroke-width="1.4" />
<text x="380.70" y="446.70" font-size="10.4" text-anchor="middle" fill="#1a1a1a" >60</text>
<line x1="274.00" y1="293.90" x2="280.50" y2="293.90" stroke="#484848" stroke-width="1.4" />
<text x="272.30" y="297.80" font-size="10.4" text-anchor="end" fill="#1a1a1a" >80</text>
<line x1="414.10" y1="427.50" x2="414.10" y2="434.00" stroke="#484848" stroke-width="1.4" />
<text x="414.10" y="446.70" font-size="10.4" text-anchor="middle" fill="#1a1a1a" >80</text>
<line x1="274.00" y1="260.50" x2="280.50" y2="260.50" stroke="#484848" stroke-width="1.4" />
<text x="272.30" y="264.40" font-size="10.4" text-anchor="end" fill="#1a1a1a" >100</text>
<line x1="447.50" y1="427.50" x2="447.50" y2="434.00" stroke="#484848" stroke-width="1.4" />
<text x="447.50" y="446.70" font-size="10.4" text-anchor="middle" fill="#1a1a1a" >100</text>
<text x="364.00" y="463.00" font-size="10.4" text-anchor="middle" fill="#1a1a1a" >100% - Specificity%</text>
<text transform="translate(245.6,344.0) rotate(-90)" font-size="10.5" text-anchor="middle" fill="#1a1a1a">Sensitivity%</text>
<text x="364.00" y="254.30" font-size="10.4" text-anchor="middle" fill="#1a1a1a" >piRNA-2572505</text>
<text x="444.00" y="423.70" font-size="10.4" text-anchor="end" fill="#1a1a1a" >AUC=0.7894</text>
</g>
<g clip-path="url(#c3)">
<line x1="504.5" y1="429.5" x2="671.5" y2="261.5" stroke="#c83c78" stroke-width="1.15" stroke-dasharray="2.6 1.8"/>
<path d="M504.4,429.3 L504.9,428.6 L504.9,425.7 L505.9,425.7 L505.9,423.8 L506.4,423.8 L506.4,421.8 L506.9,421.8 L506.9,419.3 L507.6,419.3 L507.6,416.8 L508.3,416.8 L508.3,414.9 L508.7,414.9 L508.7,412.9 L509.0,412.9 L509.0,411.0 L509.4,411.0 L509.8,403.7 L512.2,403.1 L512.2,401.1 L513.4,401.1 L513.8,390.3 L513.8,388.4 L514.5,388.4 L514.5,386.4 L515.3,386.4 L515.3,383.9 L516.0,383.9 L516.0,381.4 L516.7,381.4 L516.7,379.4 L517.7,379.4 L517.7,377.5 L518.7,377.5 L518.7,376.5 L520.7,376.5 L520.7,375.5 L522.6,375.5 L522.6,374.6 L525.0,374.6 L525.0,373.6 L527.5,373.6 L527.5,371.1 L528.0,371.1 L528.0,368.7 L528.5,368.7 L528.5,365.7 L529.5,365.7 L529.5,363.5 L529.8,363.5 L529.8,361.3 L530.0,361.3 L530.0,359.1 L530.2,359.1 L530.2,356.9 L530.5,356.9 L530.5,354.7 L531.2,354.7 L531.2,352.5 L531.9,352.5 L531.9,350.0 L533.4,350.0 L533.4,347.6 L533.9,347.6 L533.9,345.1 L534.4,345.1 L538.3,344.7 L538.3,342.9 L538.8,342.9 L538.8,341.1 L539.3,341.1 L539.3,338.8 L539.6,338.8 L539.6,336.5 L540.0,336.5 L540.0,334.2 L540.3,334.2 L540.3,332.2 L540.8,332.2 L540.8,330.3 L541.3,330.3 L541.3,328.9 L543.2,328.9 L543.2,327.4 L545.2,327.4 L545.2,324.9 L545.7,324.9 L545.7,322.4 L546.2,322.4 L546.2,319.9 L548.8,319.9 L552.7,319.1 L552.7,316.5 L554.7,316.5 L554.7,314.9 L555.9,314.9 L555.9,313.2 L557.0,313.2 L563.9,312.6 L563.9,310.6 L565.9,310.6 L565.9,308.1 L567.8,308.1 L577.7,307.3 L577.7,305.5 L579.3,305.5 L579.3,303.7 L580.9,303.7 L586.8,303.7 L587.6,296.1 L596.9,295.8 L596.9,293.7 L597.7,293.7 L597.7,291.6 L598.5,291.6 L598.5,291.1 L600.2,291.1 L600.2,290.6 L601.9,290.6 L601.9,287.7 L604.4,287.7 L604.4,286.4 L606.1,286.4 L606.1,285.2 L607.8,285.2 L607.8,283.9 L609.9,283.9 L609.9,282.7 L612.0,282.7 L612.0,280.5 L615.3,280.5 L615.3,278.9 L616.5,278.9 L616.5,277.2 L617.8,277.2 L627.1,277.2 L631.3,276.5 L631.3,276.2 L633.2,276.2 L633.2,275.8 L635.2,275.8 L635.2,275.5 L637.1,275.5 L637.1,273.5 L638.0,273.5 L638.0,271.5 L638.8,271.5 L648.9,271.0 L648.9,268.1 L651.4,268.1 L651.4,266.8 L653.9,266.8 L653.9,264.2 L656.5,264.2 L657.3,262.6 L670.7,262.0 L671.9,261.8" fill="none" stroke="#3a6ca3" stroke-width="2.0" stroke-linejoin="miter"/>
<rect x="504.5" y="261.5" width="167.0" height="168.0" fill="none" stroke="#484848" stroke-width="1.4"/>
<line x1="498.00" y1="429.50" x2="504.50" y2="429.50" stroke="#484848" stroke-width="1.4" />
<text x="496.30" y="433.40" font-size="10.4" text-anchor="end" fill="#1a1a1a" >0</text>
<line x1="504.50" y1="429.50" x2="504.50" y2="436.00" stroke="#484848" stroke-width="1.4" />
<text x="504.50" y="448.70" font-size="10.4" text-anchor="middle" fill="#1a1a1a" >0</text>
<line x1="498.00" y1="395.90" x2="504.50" y2="395.90" stroke="#484848" stroke-width="1.4" />
<text x="496.30" y="399.80" font-size="10.4" text-anchor="end" fill="#1a1a1a" >20</text>
<line x1="537.90" y1="429.50" x2="537.90" y2="436.00" stroke="#484848" stroke-width="1.4" />
<text x="537.90" y="448.70" font-size="10.4" text-anchor="middle" fill="#1a1a1a" >20</text>
<line x1="498.00" y1="362.30" x2="504.50" y2="362.30" stroke="#484848" stroke-width="1.4" />
<text x="496.30" y="366.20" font-size="10.4" text-anchor="end" fill="#1a1a1a" >40</text>
<line x1="571.30" y1="429.50" x2="571.30" y2="436.00" stroke="#484848" stroke-width="1.4" />
<text x="571.30" y="448.70" font-size="10.4" text-anchor="middle" fill="#1a1a1a" >40</text>
<line x1="498.00" y1="328.70" x2="504.50" y2="328.70" stroke="#484848" stroke-width="1.4" />
<text x="496.30" y="332.60" font-size="10.4" text-anchor="end" fill="#1a1a1a" >60</text>
<line x1="604.70" y1="429.50" x2="604.70" y2="436.00" stroke="#484848" stroke-width="1.4" />
<text x="604.70" y="448.70" font-size="10.4" text-anchor="middle" fill="#1a1a1a" >60</text>
<line x1="498.00" y1="295.10" x2="504.50" y2="295.10" stroke="#484848" stroke-width="1.4" />
<text x="496.30" y="299.00" font-size="10.4" text-anchor="end" fill="#1a1a1a" >80</text>
<line x1="638.10" y1="429.50" x2="638.10" y2="436.00" stroke="#484848" stroke-width="1.4" />
<text x="638.10" y="448.70" font-size="10.4" text-anchor="middle" fill="#1a1a1a" >80</text>
<line x1="498.00" y1="261.50" x2="504.50" y2="261.50" stroke="#484848" stroke-width="1.4" />
<text x="496.30" y="265.40" font-size="10.4" text-anchor="end" fill="#1a1a1a" >100</text>
<line x1="671.50" y1="429.50" x2="671.50" y2="436.00" stroke="#484848" stroke-width="1.4" />
<text x="671.50" y="448.70" font-size="10.4" text-anchor="middle" fill="#1a1a1a" >100</text>
<text x="588.00" y="465.00" font-size="10.4" text-anchor="middle" fill="#1a1a1a" >100% - Specificity%</text>
<text transform="translate(470.2,345.5) rotate(-90)" font-size="10.5" text-anchor="middle" fill="#1a1a1a">Sensitivity%</text>
<text x="588.00" y="255.30" font-size="10.4" text-anchor="middle" fill="#1a1a1a" >piRNA-2570061</text>
<text x="668.00" y="424.90" font-size="10.4" text-anchor="end" fill="#1a1a1a" >AUC=0.7183</text>
</g>
<g clip-path="url(#c4)">
<line x1="280.5" y1="678.5" x2="447.5" y2="511.5" stroke="#c83c78" stroke-width="1.15" stroke-dasharray="2.6 1.8"/>
<path d="M280.4,678.4 L280.3,652.1 L280.3,651.1 L281.3,651.1 L281.5,634.4 L281.5,631.4 L282.5,631.4 L282.9,622.6 L282.9,620.7 L283.4,620.7 L283.4,618.7 L283.8,618.7 L284.4,613.7 L285.2,607.8 L285.2,605.3 L285.8,605.3 L285.8,602.9 L286.4,602.9 L286.8,596.0 L286.8,594.0 L287.3,594.0 L287.3,592.1 L287.8,592.1 L287.8,589.7 L288.3,589.7 L288.3,587.2 L288.8,587.2 L289.7,582.3 L289.7,580.3 L290.7,580.3 L290.7,578.3 L291.7,578.3 L291.7,576.4 L294.7,576.4 L294.7,575.9 L296.6,575.9 L296.6,575.4 L298.6,575.4 L298.6,573.9 L300.6,573.9 L300.6,572.4 L302.5,572.4 L302.5,571.5 L304.5,571.5 L304.5,570.5 L306.5,570.5 L306.5,569.0 L308.4,569.0 L308.4,567.5 L310.4,567.5 L310.4,565.6 L313.3,565.6 L313.3,564.0 L316.3,564.0 L316.3,562.3 L316.8,562.3 L316.8,560.6 L317.3,560.6 L317.3,557.7 L319.2,557.7 L319.2,556.7 L322.2,556.7 L322.2,554.7 L322.5,554.7 L322.5,552.8 L322.9,552.8 L322.9,550.8 L323.2,550.8 L323.2,548.8 L325.7,548.8 L325.7,545.9 L328.1,545.9 L328.1,543.0 L331.0,543.0 L343.4,542.3 L344.2,540.6 L353.5,540.3 L353.5,539.0 L355.1,539.0 L355.1,537.7 L356.8,537.7 L357.7,535.2 L357.7,534.8 L360.2,534.8 L360.2,534.3 L362.7,534.3 L362.7,533.9 L365.2,533.9 L365.2,533.5 L367.4,533.5 L367.4,533.1 L369.7,533.1 L369.7,532.7 L371.9,532.7 L371.9,532.3 L374.1,532.3 L374.1,531.8 L376.4,531.8 L376.4,531.4 L378.6,531.4 L382.0,530.5 L388.7,530.2 L388.7,529.2 L390.4,529.2 L390.4,528.2 L392.1,528.2 L392.1,528.0 L394.2,528.0 L394.2,527.7 L396.3,527.7 L396.3,527.5 L398.4,527.5 L398.4,527.2 L400.5,527.2 L401.3,524.8 L401.3,524.5 L403.8,524.5 L403.8,524.1 L406.4,524.1 L406.4,523.8 L408.9,523.8 L408.9,522.8 L411.4,522.8 L411.4,521.8 L413.9,521.8 L413.9,520.8 L416.0,520.8 L416.0,519.8 L418.1,519.8 L428.2,519.3 L429.0,514.2 L429.0,513.1 L431.5,513.1 L442.4,512.6 L442.4,512.1 L444.1,512.1 L444.1,511.7 L445.8,511.7 L447.6,511.4" fill="none" stroke="#3a6ca3" stroke-width="2.0" stroke-linejoin="miter"/>
<rect x="280.5" y="511.5" width="167.0" height="167.0" fill="none" stroke="#484848" stroke-width="1.4"/>
<line x1="274.00" y1="678.50" x2="280.50" y2="678.50" stroke="#484848" stroke-width="1.4" />
<text x="272.30" y="682.40" font-size="10.4" text-anchor="end" fill="#1a1a1a" >0</text>
<line x1="280.50" y1="678.50" x2="280.50" y2="685.00" stroke="#484848" stroke-width="1.4" />
<text x="280.50" y="697.70" font-size="10.4" text-anchor="middle" fill="#1a1a1a" >0</text>
<line x1="274.00" y1="645.10" x2="280.50" y2="645.10" stroke="#484848" stroke-width="1.4" />
<text x="272.30" y="649.00" font-size="10.4" text-anchor="end" fill="#1a1a1a" >20</text>
<line x1="313.90" y1="678.50" x2="313.90" y2="685.00" stroke="#484848" stroke-width="1.4" />
<text x="313.90" y="697.70" font-size="10.4" text-anchor="middle" fill="#1a1a1a" >20</text>
<line x1="274.00" y1="611.70" x2="280.50" y2="611.70" stroke="#484848" stroke-width="1.4" />
<text x="272.30" y="615.60" font-size="10.4" text-anchor="end" fill="#1a1a1a" >40</text>
<line x1="347.30" y1="678.50" x2="347.30" y2="685.00" stroke="#484848" stroke-width="1.4" />
<text x="347.30" y="697.70" font-size="10.4" text-anchor="middle" fill="#1a1a1a" >40</text>
<line x1="274.00" y1="578.30" x2="280.50" y2="578.30" stroke="#484848" stroke-width="1.4" />
<text x="272.30" y="582.20" font-size="10.4" text-anchor="end" fill="#1a1a1a" >60</text>
<line x1="380.70" y1="678.50" x2="380.70" y2="685.00" stroke="#484848" stroke-width="1.4" />
<text x="380.70" y="697.70" font-size="10.4" text-anchor="middle" fill="#1a1a1a" >60</text>
<line x1="274.00" y1="544.90" x2="280.50" y2="544.90" stroke="#484848" stroke-width="1.4" />
<text x="272.30" y="548.80" font-size="10.4" text-anchor="end" fill="#1a1a1a" >80</text>
<line x1="414.10" y1="678.50" x2="414.10" y2="685.00" stroke="#484848" stroke-width="1.4" />
<text x="414.10" y="697.70" font-size="10.4" text-anchor="middle" fill="#1a1a1a" >80</text>
<line x1="274.00" y1="511.50" x2="280.50" y2="511.50" stroke="#484848" stroke-width="1.4" />
<text x="272.30" y="515.40" font-size="10.4" text-anchor="end" fill="#1a1a1a" >100</text>
<line x1="447.50" y1="678.50" x2="447.50" y2="685.00" stroke="#484848" stroke-width="1.4" />
<text x="447.50" y="697.70" font-size="10.4" text-anchor="middle" fill="#1a1a1a" >100</text>
<text x="364.00" y="714.00" font-size="10.4" text-anchor="middle" fill="#1a1a1a" >100% - Specificity%</text>
<text transform="translate(245.4,595.0) rotate(-90)" font-size="10.5" text-anchor="middle" fill="#1a1a1a">Sensitivity%</text>
<text x="364.00" y="505.30" font-size="10.4" text-anchor="middle" fill="#1a1a1a" >Combined</text>
<text x="444.00" y="674.70" font-size="10.4" text-anchor="end" fill="#1a1a1a" >AUC=0.8125</text>
</g>
<text x="4.60" y="14.00" font-size="18" text-anchor="start" fill="#000" >A</text>
<text x="0.80" y="264.80" font-size="18" text-anchor="start" fill="#000" >B</text>
<text x="224.20" y="516.60" font-size="18" text-anchor="start" fill="#000" >C</text>
</svg>
</body></html>
